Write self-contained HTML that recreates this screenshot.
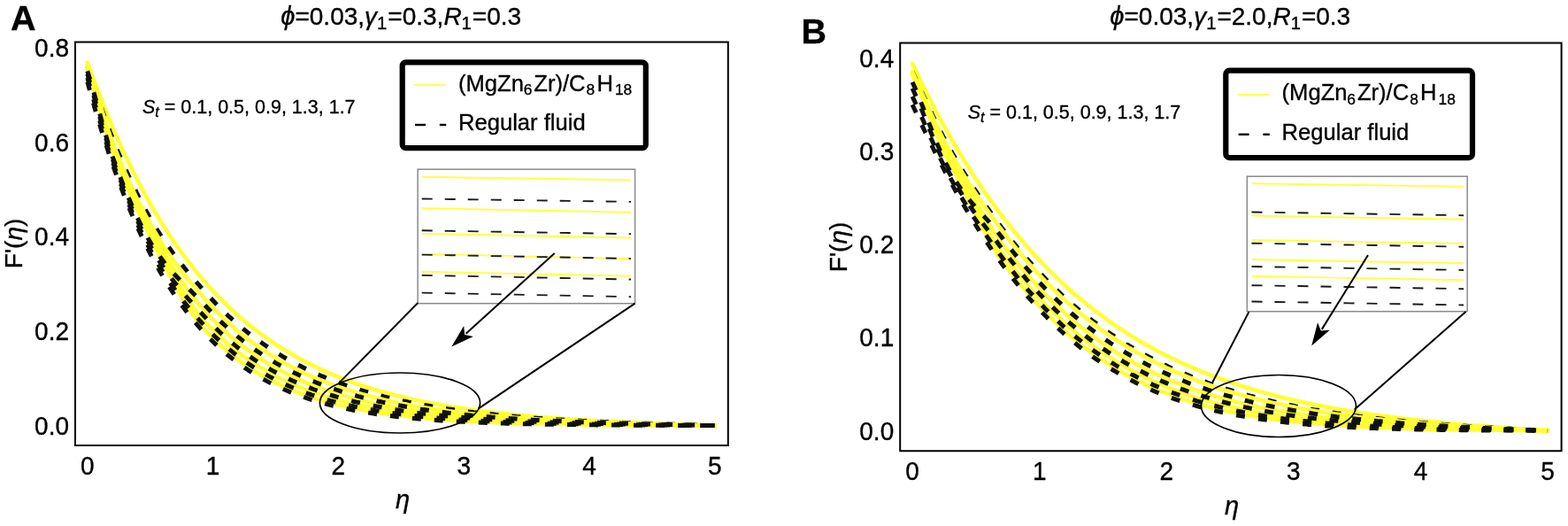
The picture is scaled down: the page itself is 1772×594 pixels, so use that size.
<!DOCTYPE html>
<html><head><meta charset="utf-8"><title>Figure</title>
<style>html,body{margin:0;padding:0;background:#fff;}svg{display:block;}text{stroke:#000;stroke-width:0.35px;}</style></head>
<body><svg width="1772" height="594" viewBox="0 0 1772 594" font-family="'Liberation Sans', Arial, sans-serif" fill="#000">
<rect width="1772" height="594" fill="#fff"/>
<text x="12.0" y="33.7" font-size="39.5" font-weight="bold">A</text>
<text x="453.2" y="27.9" font-size="28.0" text-anchor="middle"><tspan font-style="italic" font-size="29.1">&#981;</tspan>=0.03,<tspan font-style="italic">&#947;</tspan><tspan font-size="20.2" dy="5">1</tspan><tspan dy="-5" dx="1">=0.3,</tspan><tspan font-style="italic">R</tspan><tspan font-size="20.2" dy="5">1</tspan><tspan dy="-5" dx="1">=0.3</tspan></text>
<clipPath id="clipA"><rect x="85.0" y="47.4" width="737.8" height="455.6"/></clipPath>
<g clip-path="url(#clipA)" fill="none">
<path d="M98.8,70.4 L101.6,78.4 L104.5,86.2 L107.3,93.8 L110.1,101.3 L113.0,108.7 L115.8,116.0 L118.7,123.1 L121.5,130.0 L124.3,136.9 L127.2,143.6 L130.0,150.1 L132.8,156.6 L135.7,162.9 L138.5,169.1 L141.3,175.2 L144.2,181.2 L147.0,187.0 L149.8,192.8 L152.7,198.4 L155.5,203.9 L158.4,209.4 L161.2,214.7 L164.0,219.9 L166.9,225.0 L169.7,230.0 L172.5,235.0 L175.4,239.8 L178.2,244.5 L181.0,249.2 L183.9,253.7 L186.7,258.2 L189.6,262.6 L192.4,266.9 L195.2,271.1 L198.1,275.2 L200.9,279.3 L203.7,283.3 L206.6,287.2 L209.4,291.0 L212.2,294.7 L215.1,298.4 L217.9,302.0 L220.7,305.5 L223.6,309.0 L226.4,312.4 L229.3,315.8 L232.1,319.0 L234.9,322.2 L237.8,325.4 L240.6,328.5 L243.4,331.5 L246.3,334.5 L249.1,337.4 L251.9,340.2 L254.8,343.0 L257.6,345.8 L260.5,348.5 L263.3,351.1 L266.1,353.7 L269.0,356.2 L271.8,358.7 L274.6,361.1 L277.5,363.5 L280.3,365.9 L283.1,368.2 L286.0,370.4 L288.8,372.6 L291.6,374.8 L294.5,376.9 L297.3,379.0 L300.2,381.0 L303.0,383.0 L305.8,385.0 L308.7,386.9 L311.5,388.8 L314.3,390.7 L317.2,392.5 L320.0,394.2 L322.8,396.0 L325.7,397.7 L328.5,399.4 L331.4,401.0 L334.2,402.6 L337.0,404.2 L339.9,405.7 L342.7,407.3 L345.5,408.7 L348.4,410.2 L351.2,411.6 L354.0,413.0 L356.9,414.4 L359.7,415.7 L362.5,417.1 L365.4,418.4 L368.2,419.6 L371.1,420.9 L373.9,422.1 L376.7,423.3 L379.6,424.4 L382.4,425.6 L385.2,426.7 L388.1,427.8 L390.9,428.9 L393.7,430.0 L396.6,431.0 L399.4,432.0 L402.3,433.0 L405.1,434.0 L407.9,434.9 L410.8,435.9 L413.6,436.8 L416.4,437.7 L419.3,438.6 L422.1,439.4 L424.9,440.3 L427.8,441.1 L430.6,441.9 L433.4,442.7 L436.3,443.5 L439.1,444.3 L442.0,445.0 L444.8,445.8 L447.6,446.5 L450.5,447.2 L453.3,447.9 L456.1,448.6 L459.0,449.3 L461.8,449.9 L464.6,450.6 L467.5,451.2 L470.3,451.8 L473.2,452.4 L476.0,453.0 L478.8,453.6 L481.7,454.1 L484.5,454.7 L487.3,455.2 L490.2,455.8 L493.0,456.3 L495.8,456.8 L498.7,457.3 L501.5,457.8 L504.3,458.3 L507.2,458.8 L510.0,459.2 L512.9,459.7 L515.7,460.1 L518.5,460.6 L521.4,461.0 L524.2,461.4 L527.0,461.8 L529.9,462.2 L532.7,462.6 L535.5,463.0 L538.4,463.4 L541.2,463.8 L544.1,464.1 L546.9,464.5 L549.7,464.9 L552.6,465.2 L555.4,465.5 L558.2,465.9 L561.1,466.2 L563.9,466.5 L566.7,466.8 L569.6,467.1 L572.4,467.4 L575.2,467.7 L578.1,468.0 L580.9,468.3 L583.8,468.6 L586.6,468.9 L589.4,469.1 L592.3,469.4 L595.1,469.6 L597.9,469.9 L600.8,470.1 L603.6,470.4 L606.4,470.6 L609.3,470.9 L612.1,471.1 L615.0,471.3 L617.8,471.5 L620.6,471.7 L623.5,472.0 L626.3,472.2 L629.1,472.4 L632.0,472.6 L634.8,472.8 L637.6,473.0 L640.5,473.2 L643.3,473.3 L646.1,473.5 L649.0,473.7 L651.8,473.9 L654.7,474.1 L657.5,474.2 L660.3,474.4 L663.2,474.6 L666.0,474.7 L668.8,474.9 L671.7,475.0 L674.5,475.2 L677.3,475.4 L680.2,475.5 L683.0,475.7 L685.9,475.8 L688.7,475.9 L691.5,476.1 L694.4,476.2 L697.2,476.4 L700.0,476.5 L702.9,476.6 L705.7,476.7 L708.5,476.9 L711.4,477.0 L714.2,477.1 L717.0,477.2 L719.9,477.4 L722.7,477.5 L725.6,477.6 L728.4,477.7 L731.2,477.8 L734.1,477.9 L736.9,478.1 L739.7,478.2 L742.6,478.3 L745.4,478.4 L748.2,478.5 L751.1,478.6 L753.9,478.7 L756.8,478.8 L759.6,478.9 L762.4,479.0 L765.3,479.1 L768.1,479.2 L770.9,479.3 L773.8,479.4 L776.6,479.5 L779.4,479.6 L782.3,479.7 L785.1,479.8 L787.9,479.9 L790.8,480.0 L793.6,480.1 L796.5,480.1 L799.3,480.2 L802.1,480.3 L805.0,480.4 L807.8,480.5" stroke="#ffff33" stroke-width="4.6" stroke-linejoin="round" stroke-linecap="round"/>
<path d="M98.8,74.8 L101.6,83.3 L104.5,91.8 L107.3,100.2 L110.1,108.7 L113.0,117.0 L115.8,125.2 L118.7,133.3 L121.5,141.2 L124.3,148.8 L127.2,156.1 L130.0,163.1 L132.8,170.0 L135.7,176.7 L138.5,183.3 L141.3,189.7 L144.2,196.0 L147.0,202.1 L149.8,208.2 L152.7,214.1 L155.5,219.8 L158.4,225.5 L161.2,230.9 L164.0,236.2 L166.9,241.4 L169.7,246.4 L172.5,251.2 L175.4,255.9 L178.2,260.5 L181.0,264.9 L183.9,269.2 L186.7,273.5 L189.6,277.5 L192.4,281.5 L195.2,285.4 L198.1,289.2 L200.9,293.0 L203.7,296.6 L206.6,300.2 L209.4,303.7 L212.2,307.1 L215.1,310.5 L217.9,313.9 L220.7,317.2 L223.6,320.4 L226.4,323.7 L229.3,326.9 L232.1,330.1 L234.9,333.2 L237.8,336.3 L240.6,339.3 L243.4,342.3 L246.3,345.2 L249.1,348.1 L251.9,350.9 L254.8,353.6 L257.6,356.3 L260.5,358.9 L263.3,361.4 L266.1,363.9 L269.0,366.4 L271.8,368.8 L274.6,371.2 L277.5,373.5 L280.3,375.7 L283.1,377.9 L286.0,380.1 L288.8,382.2 L291.6,384.3 L294.5,386.3 L297.3,388.3 L300.2,390.3 L303.0,392.2 L305.8,394.0 L308.7,395.9 L311.5,397.7 L314.3,399.4 L317.2,401.1 L320.0,402.8 L322.8,404.5 L325.7,406.1 L328.5,407.6 L331.4,409.2 L334.2,410.7 L337.0,412.2 L339.9,413.6 L342.7,415.0 L345.5,416.4 L348.4,417.8 L351.2,419.1 L354.0,420.4 L356.9,421.7 L359.7,422.9 L362.5,424.2 L365.4,425.4 L368.2,426.5 L371.1,427.7 L373.9,428.8 L376.7,429.9 L379.6,431.0 L382.4,432.0 L385.2,433.1 L388.1,434.1 L390.9,435.1 L393.7,436.0 L396.6,437.0 L399.4,437.9 L402.3,438.8 L405.1,439.7 L407.9,440.6 L410.8,441.5 L413.6,442.3 L416.4,443.1 L419.3,443.9 L422.1,444.7 L424.9,445.5 L427.8,446.2 L430.6,446.9 L433.4,447.7 L436.3,448.4 L439.1,449.1 L442.0,449.7 L444.8,450.4 L447.6,451.0 L450.5,451.7 L453.3,452.3 L456.1,452.9 L459.0,453.5 L461.8,454.1 L464.6,454.7 L467.5,455.2 L470.3,455.8 L473.2,456.3 L476.0,456.8 L478.8,457.3 L481.7,457.8 L484.5,458.3 L487.3,458.8 L490.2,459.3 L493.0,459.8 L495.8,460.2 L498.7,460.7 L501.5,461.1 L504.3,461.5 L507.2,461.9 L510.0,462.3 L512.9,462.7 L515.7,463.1 L518.5,463.5 L521.4,463.9 L524.2,464.3 L527.0,464.6 L529.9,465.0 L532.7,465.3 L535.5,465.7 L538.4,466.0 L541.2,466.3 L544.1,466.6 L546.9,466.9 L549.7,467.2 L552.6,467.5 L555.4,467.8 L558.2,468.1 L561.1,468.4 L563.9,468.7 L566.7,468.9 L569.6,469.2 L572.4,469.5 L575.2,469.7 L578.1,470.0 L580.9,470.2 L583.8,470.5 L586.6,470.7 L589.4,470.9 L592.3,471.1 L595.1,471.4 L597.9,471.6 L600.8,471.8 L603.6,472.0 L606.4,472.2 L609.3,472.4 L612.1,472.6 L615.0,472.8 L617.8,473.0 L620.6,473.2 L623.5,473.3 L626.3,473.5 L629.1,473.7 L632.0,473.9 L634.8,474.0 L637.6,474.2 L640.5,474.4 L643.3,474.5 L646.1,474.7 L649.0,474.8 L651.8,475.0 L654.7,475.1 L657.5,475.3 L660.3,475.4 L663.2,475.6 L666.0,475.7 L668.8,475.8 L671.7,476.0 L674.5,476.1 L677.3,476.2 L680.2,476.3 L683.0,476.5 L685.9,476.6 L688.7,476.7 L691.5,476.8 L694.4,476.9 L697.2,477.1 L700.0,477.2 L702.9,477.3 L705.7,477.4 L708.5,477.5 L711.4,477.6 L714.2,477.7 L717.0,477.8 L719.9,477.9 L722.7,478.0 L725.6,478.1 L728.4,478.2 L731.2,478.3 L734.1,478.4 L736.9,478.5 L739.7,478.6 L742.6,478.7 L745.4,478.7 L748.2,478.8 L751.1,478.9 L753.9,479.0 L756.8,479.1 L759.6,479.2 L762.4,479.3 L765.3,479.3 L768.1,479.4 L770.9,479.5 L773.8,479.6 L776.6,479.7 L779.4,479.7 L782.3,479.8 L785.1,479.9 L787.9,480.0 L790.8,480.1 L793.6,480.1 L796.5,480.2 L799.3,480.3 L802.1,480.4 L805.0,480.4 L807.8,480.5" stroke="#111111" stroke-width="5" stroke-dasharray="10 14.976" stroke-linejoin="round"/>
<path d="M98.8,72.6 L101.6,81.0 L104.5,89.7 L107.3,98.7 L110.1,107.8 L113.0,117.2 L115.8,126.5 L118.7,135.7 L121.5,144.6 L124.3,153.0 L127.2,160.7 L130.0,167.9 L132.8,174.9 L135.7,181.7 L138.5,188.4 L141.3,195.0 L144.2,201.4 L147.0,207.7 L149.8,213.8 L152.7,219.8 L155.5,225.7 L158.4,231.4 L161.2,236.9 L164.0,242.3 L166.9,247.6 L169.7,252.7 L172.5,257.7 L175.4,262.5 L178.2,267.2 L181.0,271.7 L183.9,276.2 L186.7,280.5 L189.6,284.7 L192.4,288.8 L195.2,292.8 L198.1,296.8 L200.9,300.6 L203.7,304.3 L206.6,308.0 L209.4,311.6 L212.2,315.1 L215.1,318.5 L217.9,321.9 L220.7,325.3 L223.6,328.6 L226.4,331.8 L229.3,335.0 L232.1,338.2 L234.9,341.3 L237.8,344.4 L240.6,347.4 L243.4,350.3 L246.3,353.2 L249.1,356.0 L251.9,358.7 L254.8,361.4 L257.6,364.0 L260.5,366.6 L263.3,369.1 L266.1,371.5 L269.0,373.9 L271.8,376.3 L274.6,378.6 L277.5,380.8 L280.3,383.0 L283.1,385.1 L286.0,387.2 L288.8,389.3 L291.6,391.3 L294.5,393.3 L297.3,395.2 L300.2,397.1 L303.0,398.9 L305.8,400.7 L308.7,402.5 L311.5,404.2 L314.3,405.9 L317.2,407.5 L320.0,409.1 L322.8,410.7 L325.7,412.2 L328.5,413.7 L331.4,415.2 L334.2,416.6 L337.0,418.1 L339.9,419.4 L342.7,420.8 L345.5,422.1 L348.4,423.4 L351.2,424.6 L354.0,425.9 L356.9,427.1 L359.7,428.3 L362.5,429.4 L365.4,430.5 L368.2,431.6 L371.1,432.7 L373.9,433.8 L376.7,434.8 L379.6,435.8 L382.4,436.8 L385.2,437.8 L388.1,438.7 L390.9,439.6 L393.7,440.5 L396.6,441.4 L399.4,442.3 L402.3,443.1 L405.1,444.0 L407.9,444.8 L410.8,445.6 L413.6,446.3 L416.4,447.1 L419.3,447.8 L422.1,448.6 L424.9,449.3 L427.8,450.0 L430.6,450.6 L433.4,451.3 L436.3,451.9 L439.1,452.6 L442.0,453.2 L444.8,453.8 L447.6,454.4 L450.5,455.0 L453.3,455.5 L456.1,456.1 L459.0,456.6 L461.8,457.2 L464.6,457.7 L467.5,458.2 L470.3,458.7 L473.2,459.2 L476.0,459.7 L478.8,460.1 L481.7,460.6 L484.5,461.0 L487.3,461.5 L490.2,461.9 L493.0,462.3 L495.8,462.7 L498.7,463.1 L501.5,463.5 L504.3,463.9 L507.2,464.3 L510.0,464.6 L512.9,465.0 L515.7,465.3 L518.5,465.7 L521.4,466.0 L524.2,466.3 L527.0,466.7 L529.9,467.0 L532.7,467.3 L535.5,467.6 L538.4,467.9 L541.2,468.2 L544.1,468.5 L546.9,468.7 L549.7,469.0 L552.6,469.3 L555.4,469.5 L558.2,469.8 L561.1,470.0 L563.9,470.3 L566.7,470.5 L569.6,470.7 L572.4,471.0 L575.2,471.2 L578.1,471.4 L580.9,471.6 L583.8,471.8 L586.6,472.0 L589.4,472.2 L592.3,472.4 L595.1,472.6 L597.9,472.8 L600.8,473.0 L603.6,473.2 L606.4,473.4 L609.3,473.5 L612.1,473.7 L615.0,473.9 L617.8,474.1 L620.6,474.2 L623.5,474.4 L626.3,474.5 L629.1,474.7 L632.0,474.8 L634.8,475.0 L637.6,475.1 L640.5,475.3 L643.3,475.4 L646.1,475.5 L649.0,475.7 L651.8,475.8 L654.7,475.9 L657.5,476.0 L660.3,476.2 L663.2,476.3 L666.0,476.4 L668.8,476.5 L671.7,476.6 L674.5,476.7 L677.3,476.9 L680.2,477.0 L683.0,477.1 L685.9,477.2 L688.7,477.3 L691.5,477.4 L694.4,477.5 L697.2,477.6 L700.0,477.7 L702.9,477.8 L705.7,477.9 L708.5,477.9 L711.4,478.0 L714.2,478.1 L717.0,478.2 L719.9,478.3 L722.7,478.4 L725.6,478.5 L728.4,478.5 L731.2,478.6 L734.1,478.7 L736.9,478.8 L739.7,478.9 L742.6,478.9 L745.4,479.0 L748.2,479.1 L751.1,479.2 L753.9,479.2 L756.8,479.3 L759.6,479.4 L762.4,479.5 L765.3,479.5 L768.1,479.6 L770.9,479.7 L773.8,479.7 L776.6,479.8 L779.4,479.9 L782.3,479.9 L785.1,480.0 L787.9,480.1 L790.8,480.1 L793.6,480.2 L796.5,480.3 L799.3,480.3 L802.1,480.4 L805.0,480.4 L807.8,480.5" stroke="#ffff33" stroke-width="4.6" stroke-linejoin="round" stroke-linecap="round"/>
<path d="M98.8,73.7 L101.6,82.2 L104.5,91.1 L107.3,100.2 L110.1,109.6 L113.0,119.1 L115.8,128.7 L118.7,138.1 L121.5,147.2 L124.3,155.8 L127.2,163.6 L130.0,170.9 L132.8,178.0 L135.7,184.9 L138.5,191.7 L141.3,198.4 L144.2,204.9 L147.0,211.2 L149.8,217.4 L152.7,223.5 L155.5,229.4 L158.4,235.2 L161.2,240.9 L164.0,246.5 L166.9,252.0 L169.7,257.5 L172.5,262.8 L175.4,268.0 L178.2,273.2 L181.0,278.2 L183.9,283.2 L186.7,288.1 L189.6,292.9 L192.4,297.5 L195.2,302.1 L198.1,306.6 L200.9,311.0 L203.7,315.2 L206.6,319.4 L209.4,323.5 L212.2,327.4 L215.1,331.3 L217.9,335.0 L220.7,338.7 L223.6,342.2 L226.4,345.6 L229.3,348.9 L232.1,352.1 L234.9,355.2 L237.8,358.2 L240.6,361.1 L243.4,364.0 L246.3,366.7 L249.1,369.5 L251.9,372.1 L254.8,374.7 L257.6,377.3 L260.5,379.7 L263.3,382.1 L266.1,384.5 L269.0,386.8 L271.8,389.0 L274.6,391.2 L277.5,393.4 L280.3,395.5 L283.1,397.5 L286.0,399.5 L288.8,401.4 L291.6,403.3 L294.5,405.2 L297.3,407.0 L300.2,408.7 L303.0,410.4 L305.8,412.1 L308.7,413.8 L311.5,415.4 L314.3,416.9 L317.2,418.4 L320.0,419.9 L322.8,421.4 L325.7,422.8 L328.5,424.2 L331.4,425.5 L334.2,426.8 L337.0,428.1 L339.9,429.4 L342.7,430.6 L345.5,431.8 L348.4,433.0 L351.2,434.1 L354.0,435.2 L356.9,436.3 L359.7,437.4 L362.5,438.4 L365.4,439.4 L368.2,440.4 L371.1,441.3 L373.9,442.3 L376.7,443.2 L379.6,444.1 L382.4,445.0 L385.2,445.8 L388.1,446.6 L390.9,447.4 L393.7,448.2 L396.6,449.0 L399.4,449.8 L402.3,450.5 L405.1,451.2 L407.9,451.9 L410.8,452.6 L413.6,453.3 L416.4,453.9 L419.3,454.6 L422.1,455.2 L424.9,455.8 L427.8,456.4 L430.6,456.9 L433.4,457.5 L436.3,458.1 L439.1,458.6 L442.0,459.1 L444.8,459.6 L447.6,460.1 L450.5,460.6 L453.3,461.1 L456.1,461.6 L459.0,462.0 L461.8,462.4 L464.6,462.9 L467.5,463.3 L470.3,463.7 L473.2,464.1 L476.0,464.5 L478.8,464.9 L481.7,465.3 L484.5,465.6 L487.3,466.0 L490.2,466.3 L493.0,466.7 L495.8,467.0 L498.7,467.3 L501.5,467.6 L504.3,468.0 L507.2,468.3 L510.0,468.5 L512.9,468.8 L515.7,469.1 L518.5,469.4 L521.4,469.7 L524.2,469.9 L527.0,470.2 L529.9,470.4 L532.7,470.7 L535.5,470.9 L538.4,471.1 L541.2,471.4 L544.1,471.6 L546.9,471.8 L549.7,472.0 L552.6,472.2 L555.4,472.4 L558.2,472.6 L561.1,472.8 L563.9,473.0 L566.7,473.2 L569.6,473.4 L572.4,473.5 L575.2,473.7 L578.1,473.9 L580.9,474.1 L583.8,474.2 L586.6,474.4 L589.4,474.5 L592.3,474.7 L595.1,474.8 L597.9,475.0 L600.8,475.1 L603.6,475.2 L606.4,475.4 L609.3,475.5 L612.1,475.6 L615.0,475.8 L617.8,475.9 L620.6,476.0 L623.5,476.1 L626.3,476.2 L629.1,476.3 L632.0,476.5 L634.8,476.6 L637.6,476.7 L640.5,476.8 L643.3,476.9 L646.1,477.0 L649.0,477.1 L651.8,477.2 L654.7,477.3 L657.5,477.4 L660.3,477.4 L663.2,477.5 L666.0,477.6 L668.8,477.7 L671.7,477.8 L674.5,477.9 L677.3,477.9 L680.2,478.0 L683.0,478.1 L685.9,478.2 L688.7,478.2 L691.5,478.3 L694.4,478.4 L697.2,478.5 L700.0,478.5 L702.9,478.6 L705.7,478.7 L708.5,478.7 L711.4,478.8 L714.2,478.9 L717.0,478.9 L719.9,479.0 L722.7,479.0 L725.6,479.1 L728.4,479.2 L731.2,479.2 L734.1,479.3 L736.9,479.3 L739.7,479.4 L742.6,479.4 L745.4,479.5 L748.2,479.5 L751.1,479.6 L753.9,479.6 L756.8,479.7 L759.6,479.7 L762.4,479.8 L765.3,479.8 L768.1,479.9 L770.9,479.9 L773.8,480.0 L776.6,480.0 L779.4,480.1 L782.3,480.1 L785.1,480.2 L787.9,480.2 L790.8,480.2 L793.6,480.3 L796.5,480.3 L799.3,480.4 L802.1,480.4 L805.0,480.5 L807.8,480.5" stroke="#ffff33" stroke-width="4.6" stroke-linejoin="round" stroke-linecap="round"/>
<path d="M98.8,74.8 L101.6,83.5 L104.5,92.5 L107.3,101.9 L110.1,111.5 L113.0,121.3 L115.8,131.1 L118.7,140.8 L121.5,150.2 L124.3,159.0 L127.2,166.9 L130.0,174.3 L132.8,181.6 L135.7,188.6 L138.5,195.5 L141.3,202.2 L144.2,208.8 L147.0,215.2 L149.8,221.5 L152.7,227.6 L155.5,233.6 L158.4,239.5 L161.2,245.4 L164.0,251.1 L166.9,256.9 L169.7,262.5 L172.5,268.2 L175.4,273.7 L178.2,279.2 L181.0,284.6 L183.9,290.0 L186.7,295.2 L189.6,300.4 L192.4,305.5 L195.2,310.5 L198.1,315.3 L200.9,320.1 L203.7,324.8 L206.6,329.3 L209.4,333.7 L212.2,338.0 L215.1,342.1 L217.9,346.1 L220.7,349.9 L223.6,353.6 L226.4,357.1 L229.3,360.5 L232.1,363.7 L234.9,366.7 L237.8,369.7 L240.6,372.5 L243.4,375.3 L246.3,378.1 L249.1,380.7 L251.9,383.3 L254.8,385.8 L257.6,388.3 L260.5,390.7 L263.3,393.0 L266.1,395.3 L269.0,397.5 L271.8,399.7 L274.6,401.8 L277.5,403.8 L280.3,405.8 L283.1,407.8 L286.0,409.7 L288.8,411.5 L291.6,413.3 L294.5,415.1 L297.3,416.8 L300.2,418.4 L303.0,420.1 L305.8,421.6 L308.7,423.2 L311.5,424.7 L314.3,426.1 L317.2,427.6 L320.0,428.9 L322.8,430.3 L325.7,431.6 L328.5,432.9 L331.4,434.1 L334.2,435.3 L337.0,436.5 L339.9,437.7 L342.7,438.8 L345.5,439.9 L348.4,441.0 L351.2,442.0 L354.0,443.0 L356.9,444.0 L359.7,444.9 L362.5,445.9 L365.4,446.8 L368.2,447.7 L371.1,448.5 L373.9,449.4 L376.7,450.2 L379.6,451.0 L382.4,451.8 L385.2,452.5 L388.1,453.2 L390.9,454.0 L393.7,454.7 L396.6,455.3 L399.4,456.0 L402.3,456.6 L405.1,457.3 L407.9,457.9 L410.8,458.5 L413.6,459.0 L416.4,459.6 L419.3,460.2 L422.1,460.7 L424.9,461.2 L427.8,461.7 L430.6,462.2 L433.4,462.7 L436.3,463.2 L439.1,463.6 L442.0,464.1 L444.8,464.5 L447.6,464.9 L450.5,465.3 L453.3,465.7 L456.1,466.1 L459.0,466.5 L461.8,466.8 L464.6,467.2 L467.5,467.6 L470.3,467.9 L473.2,468.2 L476.0,468.5 L478.8,468.9 L481.7,469.2 L484.5,469.5 L487.3,469.8 L490.2,470.0 L493.0,470.3 L495.8,470.6 L498.7,470.8 L501.5,471.1 L504.3,471.3 L507.2,471.6 L510.0,471.8 L512.9,472.0 L515.7,472.3 L518.5,472.5 L521.4,472.7 L524.2,472.9 L527.0,473.1 L529.9,473.3 L532.7,473.5 L535.5,473.7 L538.4,473.9 L541.2,474.0 L544.1,474.2 L546.9,474.4 L549.7,474.5 L552.6,474.7 L555.4,474.8 L558.2,475.0 L561.1,475.1 L563.9,475.3 L566.7,475.4 L569.6,475.6 L572.4,475.7 L575.2,475.8 L578.1,475.9 L580.9,476.1 L583.8,476.2 L586.6,476.3 L589.4,476.4 L592.3,476.5 L595.1,476.6 L597.9,476.7 L600.8,476.8 L603.6,476.9 L606.4,477.0 L609.3,477.1 L612.1,477.2 L615.0,477.3 L617.8,477.4 L620.6,477.5 L623.5,477.6 L626.3,477.7 L629.1,477.7 L632.0,477.8 L634.8,477.9 L637.6,478.0 L640.5,478.0 L643.3,478.1 L646.1,478.2 L649.0,478.3 L651.8,478.3 L654.7,478.4 L657.5,478.4 L660.3,478.5 L663.2,478.6 L666.0,478.6 L668.8,478.7 L671.7,478.7 L674.5,478.8 L677.3,478.9 L680.2,478.9 L683.0,479.0 L685.9,479.0 L688.7,479.1 L691.5,479.1 L694.4,479.2 L697.2,479.2 L700.0,479.2 L702.9,479.3 L705.7,479.3 L708.5,479.4 L711.4,479.4 L714.2,479.5 L717.0,479.5 L719.9,479.5 L722.7,479.6 L725.6,479.6 L728.4,479.7 L731.2,479.7 L734.1,479.7 L736.9,479.8 L739.7,479.8 L742.6,479.8 L745.4,479.9 L748.2,479.9 L751.1,479.9 L753.9,480.0 L756.8,480.0 L759.6,480.0 L762.4,480.1 L765.3,480.1 L768.1,480.1 L770.9,480.1 L773.8,480.2 L776.6,480.2 L779.4,480.2 L782.3,480.3 L785.1,480.3 L787.9,480.3 L790.8,480.3 L793.6,480.4 L796.5,480.4 L799.3,480.4 L802.1,480.4 L805.0,480.5 L807.8,480.5" stroke="#ffff33" stroke-width="4.6" stroke-linejoin="round" stroke-linecap="round"/>
<path d="M98.8,75.9 L101.6,84.7 L104.5,93.9 L107.3,103.5 L110.1,113.3 L113.0,123.4 L115.8,133.4 L118.7,143.4 L121.5,153.0 L124.3,161.9 L127.2,170.1 L130.0,177.6 L132.8,184.9 L135.7,192.1 L138.5,199.0 L141.3,205.9 L144.2,212.5 L147.0,219.0 L149.8,225.4 L152.7,231.6 L155.5,237.6 L158.4,243.6 L161.2,249.5 L164.0,255.4 L166.9,261.3 L169.7,267.2 L172.5,273.0 L175.4,278.8 L178.2,284.5 L181.0,290.2 L183.9,295.8 L186.7,301.4 L189.6,306.8 L192.4,312.2 L195.2,317.5 L198.1,322.6 L200.9,327.7 L203.7,332.6 L206.6,337.4 L209.4,342.0 L212.2,346.5 L215.1,350.8 L217.9,355.0 L220.7,359.0 L223.6,362.8 L226.4,366.4 L229.3,369.8 L232.1,373.0 L234.9,376.0 L237.8,378.9 L240.6,381.7 L243.4,384.5 L246.3,387.1 L249.1,389.7 L251.9,392.3 L254.8,394.7 L257.6,397.1 L260.5,399.5 L263.3,401.7 L266.1,404.0 L269.0,406.1 L271.8,408.2 L274.6,410.2 L277.5,412.2 L280.3,414.1 L283.1,416.0 L286.0,417.8 L288.8,419.6 L291.6,421.3 L294.5,423.0 L297.3,424.6 L300.2,426.2 L303.0,427.8 L305.8,429.3 L308.7,430.7 L311.5,432.1 L314.3,433.5 L317.2,434.8 L320.0,436.2 L322.8,437.4 L325.7,438.7 L328.5,439.8 L331.4,441.0 L334.2,442.1 L337.0,443.2 L339.9,444.3 L342.7,445.4 L345.5,446.4 L348.4,447.3 L351.2,448.3 L354.0,449.2 L356.9,450.1 L359.7,451.0 L362.5,451.9 L365.4,452.7 L368.2,453.5 L371.1,454.3 L373.9,455.0 L376.7,455.8 L379.6,456.5 L382.4,457.2 L385.2,457.9 L388.1,458.5 L390.9,459.2 L393.7,459.8 L396.6,460.4 L399.4,461.0 L402.3,461.5 L405.1,462.1 L407.9,462.6 L410.8,463.2 L413.6,463.7 L416.4,464.2 L419.3,464.6 L422.1,465.1 L424.9,465.6 L427.8,466.0 L430.6,466.4 L433.4,466.8 L436.3,467.2 L439.1,467.6 L442.0,468.0 L444.8,468.4 L447.6,468.7 L450.5,469.1 L453.3,469.4 L456.1,469.7 L459.0,470.1 L461.8,470.4 L464.6,470.7 L467.5,471.0 L470.3,471.2 L473.2,471.5 L476.0,471.8 L478.8,472.0 L481.7,472.3 L484.5,472.5 L487.3,472.8 L490.2,473.0 L493.0,473.2 L495.8,473.4 L498.7,473.7 L501.5,473.9 L504.3,474.1 L507.2,474.2 L510.0,474.4 L512.9,474.6 L515.7,474.8 L518.5,475.0 L521.4,475.1 L524.2,475.3 L527.0,475.4 L529.9,475.6 L532.7,475.7 L535.5,475.9 L538.4,476.0 L541.2,476.2 L544.1,476.3 L546.9,476.4 L549.7,476.5 L552.6,476.7 L555.4,476.8 L558.2,476.9 L561.1,477.0 L563.9,477.1 L566.7,477.2 L569.6,477.3 L572.4,477.4 L575.2,477.5 L578.1,477.6 L580.9,477.7 L583.8,477.8 L586.6,477.9 L589.4,477.9 L592.3,478.0 L595.1,478.1 L597.9,478.2 L600.8,478.2 L603.6,478.3 L606.4,478.4 L609.3,478.4 L612.1,478.5 L615.0,478.6 L617.8,478.6 L620.6,478.7 L623.5,478.7 L626.3,478.8 L629.1,478.9 L632.0,478.9 L634.8,479.0 L637.6,479.0 L640.5,479.1 L643.3,479.1 L646.1,479.2 L649.0,479.2 L651.8,479.2 L654.7,479.3 L657.5,479.3 L660.3,479.4 L663.2,479.4 L666.0,479.4 L668.8,479.5 L671.7,479.5 L674.5,479.5 L677.3,479.6 L680.2,479.6 L683.0,479.6 L685.9,479.7 L688.7,479.7 L691.5,479.7 L694.4,479.8 L697.2,479.8 L700.0,479.8 L702.9,479.8 L705.7,479.9 L708.5,479.9 L711.4,479.9 L714.2,479.9 L717.0,480.0 L719.9,480.0 L722.7,480.0 L725.6,480.0 L728.4,480.1 L731.2,480.1 L734.1,480.1 L736.9,480.1 L739.7,480.1 L742.6,480.2 L745.4,480.2 L748.2,480.2 L751.1,480.2 L753.9,480.2 L756.8,480.2 L759.6,480.3 L762.4,480.3 L765.3,480.3 L768.1,480.3 L770.9,480.3 L773.8,480.3 L776.6,480.4 L779.4,480.4 L782.3,480.4 L785.1,480.4 L787.9,480.4 L790.8,480.4 L793.6,480.4 L796.5,480.4 L799.3,480.5 L802.1,480.5 L805.0,480.5 L807.8,480.5" stroke="#ffff33" stroke-width="4.6" stroke-linejoin="round" stroke-linecap="round"/>
<path d="M98.8,80.2 L101.6,89.5 L104.5,99.1 L107.3,109.0 L110.1,119.1 L113.0,129.4 L115.8,139.6 L118.7,149.7 L121.5,159.5 L124.3,168.6 L127.2,177.0 L130.0,184.7 L132.8,192.3 L135.7,199.6 L138.5,206.8 L141.3,213.8 L144.2,220.7 L147.0,227.3 L149.8,233.8 L152.7,240.2 L155.5,246.3 L158.4,252.3 L161.2,258.0 L164.0,263.3 L166.9,268.4 L169.7,273.3 L172.5,277.9 L175.4,282.3 L178.2,286.4 L181.0,290.4 L183.9,294.1 L186.7,297.7 L189.6,301.2 L192.4,304.5 L195.2,307.7 L198.1,310.7 L200.9,313.7 L203.7,316.6 L206.6,319.5 L209.4,322.3 L212.2,325.1 L215.1,327.9 L217.9,330.7 L220.7,333.5 L223.6,336.3 L226.4,339.2 L229.3,342.1 L232.1,345.2 L234.9,348.2 L237.8,351.3 L240.6,354.2 L243.4,357.1 L246.3,359.9 L249.1,362.7 L251.9,365.4 L254.8,368.0 L257.6,370.6 L260.5,373.1 L263.3,375.6 L266.1,378.0 L269.0,380.4 L271.8,382.6 L274.6,384.9 L277.5,387.1 L280.3,389.2 L283.1,391.3 L286.0,393.4 L288.8,395.4 L291.6,397.3 L294.5,399.2 L297.3,401.1 L300.2,402.9 L303.0,404.7 L305.8,406.4 L308.7,408.1 L311.5,409.8 L314.3,411.4 L317.2,413.0 L320.0,414.5 L322.8,416.0 L325.7,417.5 L328.5,419.0 L331.4,420.4 L334.2,421.7 L337.0,423.1 L339.9,424.4 L342.7,425.7 L345.5,426.9 L348.4,428.2 L351.2,429.4 L354.0,430.5 L356.9,431.7 L359.7,432.8 L362.5,433.9 L365.4,435.0 L368.2,436.0 L371.1,437.0 L373.9,438.0 L376.7,439.0 L379.6,440.0 L382.4,440.9 L385.2,441.8 L388.1,442.7 L390.9,443.5 L393.7,444.4 L396.6,445.2 L399.4,446.0 L402.3,446.8 L405.1,447.6 L407.9,448.3 L410.8,449.1 L413.6,449.8 L416.4,450.5 L419.3,451.2 L422.1,451.9 L424.9,452.5 L427.8,453.2 L430.6,453.8 L433.4,454.4 L436.3,455.0 L439.1,455.6 L442.0,456.2 L444.8,456.7 L447.6,457.3 L450.5,457.8 L453.3,458.3 L456.1,458.8 L459.0,459.3 L461.8,459.8 L464.6,460.3 L467.5,460.7 L470.3,461.2 L473.2,461.6 L476.0,462.1 L478.8,462.5 L481.7,462.9 L484.5,463.3 L487.3,463.7 L490.2,464.1 L493.0,464.5 L495.8,464.9 L498.7,465.2 L501.5,465.6 L504.3,465.9 L507.2,466.3 L510.0,466.6 L512.9,466.9 L515.7,467.2 L518.5,467.5 L521.4,467.8 L524.2,468.1 L527.0,468.4 L529.9,468.7 L532.7,469.0 L535.5,469.2 L538.4,469.5 L541.2,469.8 L544.1,470.0 L546.9,470.3 L549.7,470.5 L552.6,470.7 L555.4,471.0 L558.2,471.2 L561.1,471.4 L563.9,471.6 L566.7,471.9 L569.6,472.1 L572.4,472.3 L575.2,472.5 L578.1,472.7 L580.9,472.8 L583.8,473.0 L586.6,473.2 L589.4,473.4 L592.3,473.6 L595.1,473.7 L597.9,473.9 L600.8,474.1 L603.6,474.2 L606.4,474.4 L609.3,474.5 L612.1,474.7 L615.0,474.8 L617.8,475.0 L620.6,475.1 L623.5,475.2 L626.3,475.4 L629.1,475.5 L632.0,475.6 L634.8,475.8 L637.6,475.9 L640.5,476.0 L643.3,476.1 L646.1,476.3 L649.0,476.4 L651.8,476.5 L654.7,476.6 L657.5,476.7 L660.3,476.8 L663.2,476.9 L666.0,477.0 L668.8,477.1 L671.7,477.2 L674.5,477.3 L677.3,477.4 L680.2,477.5 L683.0,477.6 L685.9,477.7 L688.7,477.8 L691.5,477.8 L694.4,477.9 L697.2,478.0 L700.0,478.1 L702.9,478.2 L705.7,478.3 L708.5,478.3 L711.4,478.4 L714.2,478.5 L717.0,478.6 L719.9,478.6 L722.7,478.7 L725.6,478.8 L728.4,478.8 L731.2,478.9 L734.1,479.0 L736.9,479.1 L739.7,479.1 L742.6,479.2 L745.4,479.2 L748.2,479.3 L751.1,479.4 L753.9,479.4 L756.8,479.5 L759.6,479.6 L762.4,479.6 L765.3,479.7 L768.1,479.7 L770.9,479.8 L773.8,479.9 L776.6,479.9 L779.4,480.0 L782.3,480.0 L785.1,480.1 L787.9,480.1 L790.8,480.2 L793.6,480.2 L796.5,480.3 L799.3,480.3 L802.1,480.4 L805.0,480.4 L807.8,480.5" stroke="#111111" stroke-width="5" stroke-dasharray="10 15.090" stroke-linejoin="round"/>
<path d="M98.8,83.5 L101.6,93.1 L104.5,102.9 L107.3,112.8 L110.1,122.8 L113.0,132.9 L115.8,142.9 L118.7,152.7 L121.5,162.1 L124.3,171.1 L127.2,179.5 L130.0,187.3 L132.8,194.9 L135.7,202.4 L138.5,209.6 L141.3,216.7 L144.2,223.6 L147.0,230.4 L149.8,236.9 L152.7,243.3 L155.5,249.5 L158.4,255.6 L161.2,261.4 L164.0,267.0 L166.9,272.3 L169.7,277.5 L172.5,282.5 L175.4,287.3 L178.2,291.9 L181.0,296.3 L183.9,300.6 L186.7,304.7 L189.6,308.7 L192.4,312.6 L195.2,316.3 L198.1,320.0 L200.9,323.5 L203.7,327.0 L206.6,330.3 L209.4,333.6 L212.2,336.9 L215.1,340.0 L217.9,343.2 L220.7,346.3 L223.6,349.4 L226.4,352.4 L229.3,355.5 L232.1,358.5 L234.9,361.5 L237.8,364.5 L240.6,367.4 L243.4,370.2 L246.3,373.0 L249.1,375.7 L251.9,378.3 L254.8,380.8 L257.6,383.3 L260.5,385.8 L263.3,388.1 L266.1,390.4 L269.0,392.7 L271.8,394.9 L274.6,397.0 L277.5,399.1 L280.3,401.2 L283.1,403.1 L286.0,405.1 L288.8,407.0 L291.6,408.8 L294.5,410.6 L297.3,412.4 L300.2,414.1 L303.0,415.7 L305.8,417.4 L308.7,418.9 L311.5,420.5 L314.3,422.0 L317.2,423.5 L320.0,424.9 L322.8,426.3 L325.7,427.6 L328.5,429.0 L331.4,430.3 L334.2,431.5 L337.0,432.7 L339.9,433.9 L342.7,435.1 L345.5,436.3 L348.4,437.4 L351.2,438.4 L354.0,439.5 L356.9,440.5 L359.7,441.5 L362.5,442.5 L365.4,443.5 L368.2,444.4 L371.1,445.3 L373.9,446.2 L376.7,447.0 L379.6,447.9 L382.4,448.7 L385.2,449.5 L388.1,450.3 L390.9,451.0 L393.7,451.8 L396.6,452.5 L399.4,453.2 L402.3,453.9 L405.1,454.5 L407.9,455.2 L410.8,455.8 L413.6,456.4 L416.4,457.0 L419.3,457.6 L422.1,458.2 L424.9,458.8 L427.8,459.3 L430.6,459.8 L433.4,460.4 L436.3,460.9 L439.1,461.4 L442.0,461.8 L444.8,462.3 L447.6,462.8 L450.5,463.2 L453.3,463.6 L456.1,464.1 L459.0,464.5 L461.8,464.9 L464.6,465.3 L467.5,465.6 L470.3,466.0 L473.2,466.4 L476.0,466.7 L478.8,467.1 L481.7,467.4 L484.5,467.7 L487.3,468.1 L490.2,468.4 L493.0,468.7 L495.8,469.0 L498.7,469.3 L501.5,469.5 L504.3,469.8 L507.2,470.1 L510.0,470.3 L512.9,470.6 L515.7,470.9 L518.5,471.1 L521.4,471.3 L524.2,471.6 L527.0,471.8 L529.9,472.0 L532.7,472.2 L535.5,472.4 L538.4,472.6 L541.2,472.8 L544.1,473.0 L546.9,473.2 L549.7,473.4 L552.6,473.6 L555.4,473.8 L558.2,473.9 L561.1,474.1 L563.9,474.3 L566.7,474.4 L569.6,474.6 L572.4,474.7 L575.2,474.9 L578.1,475.0 L580.9,475.2 L583.8,475.3 L586.6,475.4 L589.4,475.6 L592.3,475.7 L595.1,475.8 L597.9,475.9 L600.8,476.1 L603.6,476.2 L606.4,476.3 L609.3,476.4 L612.1,476.5 L615.0,476.6 L617.8,476.7 L620.6,476.8 L623.5,476.9 L626.3,477.0 L629.1,477.1 L632.0,477.2 L634.8,477.3 L637.6,477.4 L640.5,477.5 L643.3,477.6 L646.1,477.6 L649.0,477.7 L651.8,477.8 L654.7,477.9 L657.5,478.0 L660.3,478.0 L663.2,478.1 L666.0,478.2 L668.8,478.2 L671.7,478.3 L674.5,478.4 L677.3,478.4 L680.2,478.5 L683.0,478.6 L685.9,478.6 L688.7,478.7 L691.5,478.8 L694.4,478.8 L697.2,478.9 L700.0,478.9 L702.9,479.0 L705.7,479.0 L708.5,479.1 L711.4,479.1 L714.2,479.2 L717.0,479.2 L719.9,479.3 L722.7,479.3 L725.6,479.4 L728.4,479.4 L731.2,479.5 L734.1,479.5 L736.9,479.6 L739.7,479.6 L742.6,479.6 L745.4,479.7 L748.2,479.7 L751.1,479.8 L753.9,479.8 L756.8,479.9 L759.6,479.9 L762.4,479.9 L765.3,480.0 L768.1,480.0 L770.9,480.0 L773.8,480.1 L776.6,480.1 L779.4,480.2 L782.3,480.2 L785.1,480.2 L787.9,480.3 L790.8,480.3 L793.6,480.3 L796.5,480.4 L799.3,480.4 L802.1,480.4 L805.0,480.5 L807.8,480.5" stroke="#111111" stroke-width="5" stroke-dasharray="10 15.128" stroke-linejoin="round"/>
<path d="M98.8,87.9 L101.6,97.9 L104.5,107.9 L107.3,117.8 L110.1,127.6 L113.0,137.3 L115.8,146.9 L118.7,156.3 L121.5,165.4 L124.3,174.1 L127.2,182.4 L130.0,190.3 L132.8,198.1 L135.7,205.6 L138.5,212.9 L141.3,220.1 L144.2,227.1 L147.0,233.9 L149.8,240.5 L152.7,247.0 L155.5,253.2 L158.4,259.4 L161.2,265.3 L164.0,271.0 L166.9,276.6 L169.7,282.0 L172.5,287.2 L175.4,292.3 L178.2,297.2 L181.0,302.0 L183.9,306.6 L186.7,311.1 L189.6,315.4 L192.4,319.7 L195.2,323.8 L198.1,327.8 L200.9,331.7 L203.7,335.5 L206.6,339.2 L209.4,342.8 L212.2,346.3 L215.1,349.7 L217.9,353.1 L220.7,356.4 L223.6,359.6 L226.4,362.8 L229.3,365.9 L232.1,368.9 L234.9,371.9 L237.8,374.9 L240.6,377.7 L243.4,380.5 L246.3,383.2 L249.1,385.8 L251.9,388.4 L254.8,390.8 L257.6,393.3 L260.5,395.6 L263.3,397.9 L266.1,400.2 L269.0,402.3 L271.8,404.5 L274.6,406.5 L277.5,408.5 L280.3,410.5 L283.1,412.4 L286.0,414.3 L288.8,416.1 L291.6,417.8 L294.5,419.5 L297.3,421.2 L300.2,422.8 L303.0,424.4 L305.8,425.9 L308.7,427.4 L311.5,428.9 L314.3,430.3 L317.2,431.7 L320.0,433.0 L322.8,434.3 L325.7,435.6 L328.5,436.8 L331.4,438.0 L334.2,439.2 L337.0,440.3 L339.9,441.4 L342.7,442.5 L345.5,443.5 L348.4,444.6 L351.2,445.5 L354.0,446.5 L356.9,447.4 L359.7,448.4 L362.5,449.2 L365.4,450.1 L368.2,450.9 L371.1,451.8 L373.9,452.6 L376.7,453.3 L379.6,454.1 L382.4,454.8 L385.2,455.5 L388.1,456.2 L390.9,456.9 L393.7,457.5 L396.6,458.2 L399.4,458.8 L402.3,459.4 L405.1,460.0 L407.9,460.6 L410.8,461.1 L413.6,461.6 L416.4,462.2 L419.3,462.7 L422.1,463.2 L424.9,463.7 L427.8,464.1 L430.6,464.6 L433.4,465.0 L436.3,465.4 L439.1,465.9 L442.0,466.3 L444.8,466.7 L447.6,467.1 L450.5,467.4 L453.3,467.8 L456.1,468.1 L459.0,468.5 L461.8,468.8 L464.6,469.2 L467.5,469.5 L470.3,469.8 L473.2,470.1 L476.0,470.4 L478.8,470.6 L481.7,470.9 L484.5,471.2 L487.3,471.5 L490.2,471.7 L493.0,472.0 L495.8,472.2 L498.7,472.4 L501.5,472.6 L504.3,472.9 L507.2,473.1 L510.0,473.3 L512.9,473.5 L515.7,473.7 L518.5,473.9 L521.4,474.1 L524.2,474.2 L527.0,474.4 L529.9,474.6 L532.7,474.8 L535.5,474.9 L538.4,475.1 L541.2,475.2 L544.1,475.4 L546.9,475.5 L549.7,475.7 L552.6,475.8 L555.4,475.9 L558.2,476.1 L561.1,476.2 L563.9,476.3 L566.7,476.4 L569.6,476.5 L572.4,476.7 L575.2,476.8 L578.1,476.9 L580.9,477.0 L583.8,477.1 L586.6,477.2 L589.4,477.3 L592.3,477.4 L595.1,477.5 L597.9,477.5 L600.8,477.6 L603.6,477.7 L606.4,477.8 L609.3,477.9 L612.1,477.9 L615.0,478.0 L617.8,478.1 L620.6,478.2 L623.5,478.2 L626.3,478.3 L629.1,478.4 L632.0,478.4 L634.8,478.5 L637.6,478.6 L640.5,478.6 L643.3,478.7 L646.1,478.7 L649.0,478.8 L651.8,478.8 L654.7,478.9 L657.5,478.9 L660.3,479.0 L663.2,479.0 L666.0,479.1 L668.8,479.1 L671.7,479.2 L674.5,479.2 L677.3,479.3 L680.2,479.3 L683.0,479.3 L685.9,479.4 L688.7,479.4 L691.5,479.5 L694.4,479.5 L697.2,479.5 L700.0,479.6 L702.9,479.6 L705.7,479.6 L708.5,479.7 L711.4,479.7 L714.2,479.7 L717.0,479.8 L719.9,479.8 L722.7,479.8 L725.6,479.8 L728.4,479.9 L731.2,479.9 L734.1,479.9 L736.9,480.0 L739.7,480.0 L742.6,480.0 L745.4,480.0 L748.2,480.1 L751.1,480.1 L753.9,480.1 L756.8,480.1 L759.6,480.2 L762.4,480.2 L765.3,480.2 L768.1,480.2 L770.9,480.2 L773.8,480.3 L776.6,480.3 L779.4,480.3 L782.3,480.3 L785.1,480.3 L787.9,480.4 L790.8,480.4 L793.6,480.4 L796.5,480.4 L799.3,480.4 L802.1,480.5 L805.0,480.5 L807.8,480.5" stroke="#111111" stroke-width="5" stroke-dasharray="10 15.104" stroke-linejoin="round"/>
<path d="M98.8,92.3 L101.6,102.7 L104.5,112.8 L107.3,122.7 L110.1,132.4 L113.0,141.8 L115.8,151.0 L118.7,159.9 L121.5,168.6 L124.3,177.1 L127.2,185.3 L130.0,193.3 L132.8,201.2 L135.7,208.8 L138.5,216.2 L141.3,223.5 L144.2,230.5 L147.0,237.4 L149.8,244.1 L152.7,250.6 L155.5,257.0 L158.4,263.1 L161.2,269.1 L164.0,275.0 L166.9,280.7 L169.7,286.3 L172.5,291.7 L175.4,296.9 L178.2,302.0 L181.0,307.0 L183.9,311.9 L186.7,316.6 L189.6,321.2 L192.4,325.7 L195.2,330.0 L198.1,334.3 L200.9,338.4 L203.7,342.4 L206.6,346.3 L209.4,350.1 L212.2,353.8 L215.1,357.4 L217.9,360.9 L220.7,364.3 L223.6,367.6 L226.4,370.9 L229.3,374.0 L232.1,377.1 L234.9,380.0 L237.8,382.9 L240.6,385.7 L243.4,388.4 L246.3,391.1 L249.1,393.7 L251.9,396.2 L254.8,398.6 L257.6,401.0 L260.5,403.3 L263.3,405.6 L266.1,407.7 L269.0,409.9 L271.8,411.9 L274.6,413.9 L277.5,415.9 L280.3,417.8 L283.1,419.6 L286.0,421.4 L288.8,423.1 L291.6,424.8 L294.5,426.5 L297.3,428.1 L300.2,429.6 L303.0,431.1 L305.8,432.6 L308.7,434.0 L311.5,435.4 L314.3,436.7 L317.2,438.0 L320.0,439.3 L322.8,440.5 L325.7,441.7 L328.5,442.9 L331.4,444.0 L334.2,445.1 L337.0,446.2 L339.9,447.2 L342.7,448.2 L345.5,449.2 L348.4,450.1 L351.2,451.1 L354.0,452.0 L356.9,452.8 L359.7,453.7 L362.5,454.5 L365.4,455.3 L368.2,456.0 L371.1,456.8 L373.9,457.5 L376.7,458.2 L379.6,458.9 L382.4,459.6 L385.2,460.2 L388.1,460.8 L390.9,461.4 L393.7,462.0 L396.6,462.6 L399.4,463.2 L402.3,463.7 L405.1,464.2 L407.9,464.7 L410.8,465.2 L413.6,465.7 L416.4,466.1 L419.3,466.6 L422.1,467.0 L424.9,467.5 L427.8,467.9 L430.6,468.3 L433.4,468.6 L436.3,469.0 L439.1,469.4 L442.0,469.7 L444.8,470.1 L447.6,470.4 L450.5,470.7 L453.3,471.0 L456.1,471.3 L459.0,471.6 L461.8,471.9 L464.6,472.2 L467.5,472.4 L470.3,472.7 L473.2,473.0 L476.0,473.2 L478.8,473.4 L481.7,473.7 L484.5,473.9 L487.3,474.1 L490.2,474.3 L493.0,474.5 L495.8,474.7 L498.7,474.9 L501.5,475.1 L504.3,475.2 L507.2,475.4 L510.0,475.6 L512.9,475.7 L515.7,475.9 L518.5,476.0 L521.4,476.2 L524.2,476.3 L527.0,476.5 L529.9,476.6 L532.7,476.7 L535.5,476.9 L538.4,477.0 L541.2,477.1 L544.1,477.2 L546.9,477.3 L549.7,477.4 L552.6,477.5 L555.4,477.6 L558.2,477.7 L561.1,477.8 L563.9,477.9 L566.7,478.0 L569.6,478.1 L572.4,478.2 L575.2,478.2 L578.1,478.3 L580.9,478.4 L583.8,478.5 L586.6,478.5 L589.4,478.6 L592.3,478.7 L595.1,478.7 L597.9,478.8 L600.8,478.8 L603.6,478.9 L606.4,479.0 L609.3,479.0 L612.1,479.1 L615.0,479.1 L617.8,479.2 L620.6,479.2 L623.5,479.3 L626.3,479.3 L629.1,479.3 L632.0,479.4 L634.8,479.4 L637.6,479.5 L640.5,479.5 L643.3,479.5 L646.1,479.6 L649.0,479.6 L651.8,479.6 L654.7,479.7 L657.5,479.7 L660.3,479.7 L663.2,479.8 L666.0,479.8 L668.8,479.8 L671.7,479.8 L674.5,479.9 L677.3,479.9 L680.2,479.9 L683.0,479.9 L685.9,480.0 L688.7,480.0 L691.5,480.0 L694.4,480.0 L697.2,480.0 L700.0,480.1 L702.9,480.1 L705.7,480.1 L708.5,480.1 L711.4,480.1 L714.2,480.2 L717.0,480.2 L719.9,480.2 L722.7,480.2 L725.6,480.2 L728.4,480.2 L731.2,480.2 L734.1,480.3 L736.9,480.3 L739.7,480.3 L742.6,480.3 L745.4,480.3 L748.2,480.3 L751.1,480.3 L753.9,480.3 L756.8,480.3 L759.6,480.4 L762.4,480.4 L765.3,480.4 L768.1,480.4 L770.9,480.4 L773.8,480.4 L776.6,480.4 L779.4,480.4 L782.3,480.4 L785.1,480.4 L787.9,480.4 L790.8,480.5 L793.6,480.5 L796.5,480.5 L799.3,480.5 L802.1,480.5 L805.0,480.5 L807.8,480.5" stroke="#111111" stroke-width="5" stroke-dasharray="10 15.045" stroke-linejoin="round"/>
</g>
<path d="M85.0,47.4 H822.8 V503.0 H85.0 Z" fill="none" stroke="#000" stroke-width="2"/>
<text x="0" y="0" font-size="28.0" text-anchor="end" transform="translate(78.0,490.7) scale(1,1.045)" >0.0</text>
<text x="0" y="0" font-size="28.0" text-anchor="end" transform="translate(78.0,384.0) scale(1,1.045)" >0.2</text>
<text x="0" y="0" font-size="28.0" text-anchor="end" transform="translate(78.0,277.4) scale(1,1.045)" >0.4</text>
<text x="0" y="0" font-size="28.0" text-anchor="end" transform="translate(78.0,170.7) scale(1,1.045)" >0.6</text>
<text x="0" y="0" font-size="28.0" text-anchor="end" transform="translate(78.0,64.1) scale(1,1.045)" >0.8</text>
<text x="0" y="0" font-size="28.0" text-anchor="middle" transform="translate(98.8,536.0) scale(1,1.045)" >0</text>
<text x="0" y="0" font-size="28.0" text-anchor="middle" transform="translate(240.6,536.0) scale(1,1.045)" >1</text>
<text x="0" y="0" font-size="28.0" text-anchor="middle" transform="translate(382.4,536.0) scale(1,1.045)" >2</text>
<text x="0" y="0" font-size="28.0" text-anchor="middle" transform="translate(524.2,536.0) scale(1,1.045)" >3</text>
<text x="0" y="0" font-size="28.0" text-anchor="middle" transform="translate(666.0,536.0) scale(1,1.045)" >4</text>
<text x="0" y="0" font-size="28.0" text-anchor="middle" transform="translate(807.8,536.0) scale(1,1.045)" >5</text>
<text x="447.0" y="573.6" font-size="29.0" font-style="italic">&#951;</text>
<text x="0" y="0" font-size="28.0" text-anchor="middle" transform="translate(25.0,275.0) rotate(-90)">F'(<tspan font-style="italic">&#951;</tspan>)</text>
<text x="161.0" y="127.9" font-size="21.5"><tspan font-style="italic">S</tspan><tspan font-style="italic" font-size="16.1" dy="4">t</tspan><tspan dy="-4"> = 0.1, 0.5, 0.9, 1.3, 1.7</tspan></text>
<rect x="454.7" y="70.3" width="275.1" height="96.9" rx="4" fill="#fff" stroke="#000" stroke-width="6.2"/>
<line x1="468.4" y1="96.0" x2="504.2" y2="96.0" stroke="#ffff55" stroke-width="2.2"/>
<line x1="469.0" y1="141.0" x2="481.0" y2="141.0" stroke="#000" stroke-width="2.4"/>
<line x1="496.8" y1="141.0" x2="504.2" y2="141.0" stroke="#000" stroke-width="2.4"/>
<text x="518.0" y="102.6" font-size="25.6">(MgZn<tspan font-size="17.4" dy="4.6" dx="-0.3">6</tspan><tspan dy="-4.6" dx="2">Zr)/C</tspan><tspan font-size="17.4" dy="4.6" dx="1">8</tspan><tspan dy="-4.6" dx="2.2">H</tspan><tspan font-size="17.4" dy="4.6" dx="2">18</tspan></text>
<text x="518.0" y="147.0" font-size="25.6">Regular fluid</text>
<rect x="472.1" y="191.2" width="245.5" height="151.5" fill="#fff" stroke="#8a8a8a" stroke-width="1.5"/>
<line x1="476.7" y1="199.7" x2="713.0" y2="203.3" stroke="#ffff44" stroke-width="1.9"/>
<line x1="476.7" y1="235.2" x2="713.0" y2="239.7" stroke="#ffff44" stroke-width="1.9"/>
<line x1="476.7" y1="263.9" x2="713.0" y2="268.5" stroke="#ffff44" stroke-width="1.9"/>
<line x1="476.7" y1="286.7" x2="713.0" y2="292.1" stroke="#ffff44" stroke-width="1.9"/>
<line x1="476.7" y1="306.7" x2="713.0" y2="311.8" stroke="#ffff44" stroke-width="1.9"/>
<line x1="476.7" y1="224.5" x2="713.0" y2="227.9" stroke="#1a1a1a" stroke-width="1.9" stroke-dasharray="12 14"/>
<line x1="476.7" y1="260.3" x2="713.0" y2="264.2" stroke="#1a1a1a" stroke-width="1.9" stroke-dasharray="12 14"/>
<line x1="476.7" y1="287.6" x2="713.0" y2="292.1" stroke="#1a1a1a" stroke-width="1.9" stroke-dasharray="12 14"/>
<line x1="476.7" y1="310.9" x2="713.0" y2="315.5" stroke="#1a1a1a" stroke-width="1.9" stroke-dasharray="12 14"/>
<line x1="476.7" y1="330.6" x2="713.0" y2="335.2" stroke="#1a1a1a" stroke-width="1.9" stroke-dasharray="12 14"/>
<ellipse cx="452.0" cy="455.0" rx="90.6" ry="34.0" fill="none" stroke="#000" stroke-width="1.7"/>
<line x1="472.3" y1="342.0" x2="383.0" y2="432.6" stroke="#000" stroke-width="2"/>
<line x1="717.6" y1="342.7" x2="540.4" y2="461.7" stroke="#000" stroke-width="2"/>
<line x1="626.7" y1="286.0" x2="526.6" y2="376.7" stroke="#000" stroke-width="2"/>
<path d="M510.3,391.5 L524.2,368.1 L525.1,378.1 L534.9,380.0 Z" fill="#000"/>
<text x="905.5" y="48.8" font-size="39.5" font-weight="bold">B</text>
<text x="1390.25" y="27.9" font-size="28.0" text-anchor="middle"><tspan font-style="italic" font-size="29.1">&#981;</tspan>=0.03,<tspan font-style="italic">&#947;</tspan><tspan font-size="20.2" dy="5">1</tspan><tspan dy="-5" dx="1">=2.0,</tspan><tspan font-style="italic">R</tspan><tspan font-size="20.2" dy="5">1</tspan><tspan dy="-5" dx="1">=0.3</tspan></text>
<clipPath id="clipB"><rect x="1017.2" y="48.4" width="747.3999999999999" height="460.90000000000003"/></clipPath>
<g clip-path="url(#clipB)" fill="none">
<path d="M1031.1,71.9 L1034.0,78.0 L1036.8,84.1 L1039.7,90.0 L1042.6,95.9 L1045.5,101.7 L1048.3,107.4 L1051.2,113.0 L1054.1,118.6 L1056.9,124.0 L1059.8,129.5 L1062.7,134.8 L1065.6,140.0 L1068.4,145.2 L1071.3,150.3 L1074.2,155.4 L1077.1,160.4 L1079.9,165.3 L1082.8,170.1 L1085.7,174.9 L1088.5,179.6 L1091.4,184.2 L1094.3,188.8 L1097.2,193.3 L1100.0,197.8 L1102.9,202.2 L1105.8,206.5 L1108.6,210.8 L1111.5,215.0 L1114.4,219.1 L1117.3,223.2 L1120.1,227.3 L1123.0,231.2 L1125.9,235.1 L1128.7,239.0 L1131.6,242.8 L1134.5,246.6 L1137.4,250.3 L1140.2,253.9 L1143.1,257.5 L1146.0,261.1 L1148.9,264.6 L1151.7,268.0 L1154.6,271.4 L1157.5,274.8 L1160.3,278.1 L1163.2,281.3 L1166.1,284.5 L1169.0,287.7 L1171.8,290.8 L1174.7,293.9 L1177.6,296.9 L1180.4,299.9 L1183.3,302.8 L1186.2,305.7 L1189.1,308.6 L1191.9,311.4 L1194.8,314.2 L1197.7,316.9 L1200.5,319.6 L1203.4,322.3 L1206.3,324.9 L1209.2,327.5 L1212.0,330.0 L1214.9,332.5 L1217.8,335.0 L1220.7,337.4 L1223.5,339.8 L1226.4,342.1 L1229.3,344.5 L1232.1,346.7 L1235.0,349.0 L1237.9,351.2 L1240.8,353.4 L1243.6,355.6 L1246.5,357.7 L1249.4,359.8 L1252.2,361.9 L1255.1,363.9 L1258.0,365.9 L1260.9,367.9 L1263.7,369.8 L1266.6,371.7 L1269.5,373.6 L1272.3,375.4 L1275.2,377.3 L1278.1,379.1 L1281.0,380.9 L1283.8,382.6 L1286.7,384.3 L1289.6,386.0 L1292.5,387.7 L1295.3,389.3 L1298.2,390.9 L1301.1,392.5 L1303.9,394.1 L1306.8,395.7 L1309.7,397.2 L1312.6,398.7 L1315.4,400.2 L1318.3,401.6 L1321.2,403.0 L1324.0,404.5 L1326.9,405.8 L1329.8,407.2 L1332.7,408.6 L1335.5,409.9 L1338.4,411.2 L1341.3,412.5 L1344.1,413.7 L1347.0,415.0 L1349.9,416.2 L1352.8,417.4 L1355.6,418.6 L1358.5,419.8 L1361.4,420.9 L1364.3,422.1 L1367.1,423.2 L1370.0,424.3 L1372.9,425.4 L1375.7,426.4 L1378.6,427.5 L1381.5,428.5 L1384.4,429.5 L1387.2,430.6 L1390.1,431.5 L1393.0,432.5 L1395.8,433.5 L1398.7,434.4 L1401.6,435.3 L1404.5,436.3 L1407.3,437.2 L1410.2,438.0 L1413.1,438.9 L1415.9,439.8 L1418.8,440.6 L1421.7,441.4 L1424.6,442.3 L1427.4,443.1 L1430.3,443.9 L1433.2,444.6 L1436.1,445.4 L1438.9,446.2 L1441.8,446.9 L1444.7,447.6 L1447.5,448.4 L1450.4,449.1 L1453.3,449.8 L1456.2,450.5 L1459.0,451.1 L1461.9,451.8 L1464.8,452.5 L1467.6,453.1 L1470.5,453.7 L1473.4,454.4 L1476.3,455.0 L1479.1,455.6 L1482.0,456.2 L1484.9,456.8 L1487.7,457.4 L1490.6,457.9 L1493.5,458.5 L1496.4,459.1 L1499.2,459.6 L1502.1,460.1 L1505.0,460.7 L1507.9,461.2 L1510.7,461.7 L1513.6,462.2 L1516.5,462.7 L1519.3,463.2 L1522.2,463.7 L1525.1,464.1 L1528.0,464.6 L1530.8,465.1 L1533.7,465.5 L1536.6,466.0 L1539.4,466.4 L1542.3,466.8 L1545.2,467.3 L1548.1,467.7 L1550.9,468.1 L1553.8,468.5 L1556.7,468.9 L1559.5,469.3 L1562.4,469.7 L1565.3,470.1 L1568.2,470.4 L1571.0,470.8 L1573.9,471.2 L1576.8,471.5 L1579.7,471.9 L1582.5,472.2 L1585.4,472.6 L1588.3,472.9 L1591.1,473.3 L1594.0,473.6 L1596.9,473.9 L1599.8,474.2 L1602.6,474.6 L1605.5,474.9 L1608.4,475.2 L1611.2,475.5 L1614.1,475.8 L1617.0,476.1 L1619.9,476.4 L1622.7,476.6 L1625.6,476.9 L1628.5,477.2 L1631.3,477.5 L1634.2,477.8 L1637.1,478.0 L1640.0,478.3 L1642.8,478.5 L1645.7,478.8 L1648.6,479.0 L1651.5,479.3 L1654.3,479.5 L1657.2,479.8 L1660.1,480.0 L1662.9,480.3 L1665.8,480.5 L1668.7,480.7 L1671.6,481.0 L1674.4,481.2 L1677.3,481.4 L1680.2,481.6 L1683.0,481.8 L1685.9,482.1 L1688.8,482.3 L1691.7,482.5 L1694.5,482.7 L1697.4,482.9 L1700.3,483.1 L1703.1,483.3 L1706.0,483.5 L1708.9,483.7 L1711.8,483.9 L1714.6,484.1 L1717.5,484.3 L1720.4,484.4 L1723.3,484.6 L1726.1,484.8 L1729.0,485.0 L1731.9,485.2 L1734.7,485.3 L1737.6,485.5 L1740.5,485.7 L1743.4,485.9 L1746.2,486.0 L1749.1,486.2" stroke="#ffff33" stroke-width="4.6" stroke-linejoin="round" stroke-linecap="round"/>
<path d="M1031.1,81.2 L1034.0,87.4 L1036.8,93.6 L1039.7,99.8 L1042.6,106.0 L1045.5,112.2 L1048.3,118.4 L1051.2,124.5 L1054.1,130.5 L1056.9,136.4 L1059.8,142.3 L1062.7,148.0 L1065.6,153.6 L1068.4,159.0 L1071.3,164.2 L1074.2,169.3 L1077.1,174.4 L1079.9,179.3 L1082.8,184.2 L1085.7,189.0 L1088.5,193.7 L1091.4,198.3 L1094.3,202.8 L1097.2,207.3 L1100.0,211.7 L1102.9,216.0 L1105.8,220.3 L1108.6,224.5 L1111.5,228.7 L1114.4,232.8 L1117.3,236.8 L1120.1,240.8 L1123.0,244.8 L1125.9,248.7 L1128.7,252.6 L1131.6,256.4 L1134.5,260.2 L1137.4,263.9 L1140.2,267.6 L1143.1,271.3 L1146.0,274.8 L1148.9,278.4 L1151.7,281.8 L1154.6,285.3 L1157.5,288.6 L1160.3,291.9 L1163.2,295.2 L1166.1,298.4 L1169.0,301.6 L1171.8,304.7 L1174.7,307.8 L1177.6,310.8 L1180.4,313.8 L1183.3,316.8 L1186.2,319.7 L1189.1,322.5 L1191.9,325.3 L1194.8,328.1 L1197.7,330.8 L1200.5,333.5 L1203.4,336.1 L1206.3,338.7 L1209.2,341.2 L1212.0,343.8 L1214.9,346.2 L1217.8,348.7 L1220.7,351.1 L1223.5,353.4 L1226.4,355.7 L1229.3,358.0 L1232.1,360.3 L1235.0,362.5 L1237.9,364.6 L1240.8,366.8 L1243.6,368.9 L1246.5,371.0 L1249.4,373.0 L1252.2,375.0 L1255.1,377.0 L1258.0,378.9 L1260.9,380.8 L1263.7,382.7 L1266.6,384.5 L1269.5,386.4 L1272.3,388.2 L1275.2,389.9 L1278.1,391.6 L1281.0,393.3 L1283.8,395.0 L1286.7,396.7 L1289.6,398.3 L1292.5,399.9 L1295.3,401.4 L1298.2,403.0 L1301.1,404.5 L1303.9,406.0 L1306.8,407.4 L1309.7,408.9 L1312.6,410.3 L1315.4,411.7 L1318.3,413.0 L1321.2,414.4 L1324.0,415.7 L1326.9,417.0 L1329.8,418.2 L1332.7,419.5 L1335.5,420.7 L1338.4,421.9 L1341.3,423.1 L1344.1,424.3 L1347.0,425.5 L1349.9,426.6 L1352.8,427.7 L1355.6,428.8 L1358.5,429.9 L1361.4,430.9 L1364.3,432.0 L1367.1,433.0 L1370.0,434.0 L1372.9,435.0 L1375.7,435.9 L1378.6,436.9 L1381.5,437.8 L1384.4,438.7 L1387.2,439.6 L1390.1,440.5 L1393.0,441.4 L1395.8,442.2 L1398.7,443.1 L1401.6,443.9 L1404.5,444.7 L1407.3,445.5 L1410.2,446.3 L1413.1,447.1 L1415.9,447.8 L1418.8,448.6 L1421.7,449.3 L1424.6,450.0 L1427.4,450.7 L1430.3,451.4 L1433.2,452.1 L1436.1,452.8 L1438.9,453.4 L1441.8,454.1 L1444.7,454.7 L1447.5,455.3 L1450.4,456.0 L1453.3,456.6 L1456.2,457.2 L1459.0,457.7 L1461.9,458.3 L1464.8,458.9 L1467.6,459.4 L1470.5,460.0 L1473.4,460.5 L1476.3,461.0 L1479.1,461.5 L1482.0,462.1 L1484.9,462.6 L1487.7,463.0 L1490.6,463.5 L1493.5,464.0 L1496.4,464.5 L1499.2,464.9 L1502.1,465.4 L1505.0,465.8 L1507.9,466.2 L1510.7,466.7 L1513.6,467.1 L1516.5,467.5 L1519.3,467.9 L1522.2,468.3 L1525.1,468.7 L1528.0,469.1 L1530.8,469.5 L1533.7,469.8 L1536.6,470.2 L1539.4,470.6 L1542.3,470.9 L1545.2,471.3 L1548.1,471.6 L1550.9,471.9 L1553.8,472.3 L1556.7,472.6 L1559.5,472.9 L1562.4,473.2 L1565.3,473.5 L1568.2,473.9 L1571.0,474.2 L1573.9,474.4 L1576.8,474.7 L1579.7,475.0 L1582.5,475.3 L1585.4,475.6 L1588.3,475.9 L1591.1,476.1 L1594.0,476.4 L1596.9,476.6 L1599.8,476.9 L1602.6,477.2 L1605.5,477.4 L1608.4,477.6 L1611.2,477.9 L1614.1,478.1 L1617.0,478.4 L1619.9,478.6 L1622.7,478.8 L1625.6,479.0 L1628.5,479.2 L1631.3,479.5 L1634.2,479.7 L1637.1,479.9 L1640.0,480.1 L1642.8,480.3 L1645.7,480.5 L1648.6,480.7 L1651.5,480.9 L1654.3,481.1 L1657.2,481.3 L1660.1,481.5 L1662.9,481.6 L1665.8,481.8 L1668.7,482.0 L1671.6,482.2 L1674.4,482.4 L1677.3,482.5 L1680.2,482.7 L1683.0,482.9 L1685.9,483.0 L1688.8,483.2 L1691.7,483.4 L1694.5,483.5 L1697.4,483.7 L1700.3,483.8 L1703.1,484.0 L1706.0,484.1 L1708.9,484.3 L1711.8,484.4 L1714.6,484.6 L1717.5,484.7 L1720.4,484.9 L1723.3,485.0 L1726.1,485.1 L1729.0,485.3 L1731.9,485.4 L1734.7,485.5 L1737.6,485.7 L1740.5,485.8 L1743.4,485.9 L1746.2,486.1 L1749.1,486.2" stroke="#111111" stroke-width="5" stroke-dasharray="10 14.766" stroke-linejoin="round"/>
<path d="M1031.1,81.2 L1034.0,87.4 L1036.8,93.7 L1039.7,100.1 L1042.6,106.6 L1045.5,113.1 L1048.3,119.5 L1051.2,125.9 L1054.1,132.2 L1056.9,138.5 L1059.8,144.6 L1062.7,150.6 L1065.6,156.3 L1068.4,161.9 L1071.3,167.2 L1074.2,172.3 L1077.1,177.4 L1079.9,182.3 L1082.8,187.2 L1085.7,192.0 L1088.5,196.7 L1091.4,201.3 L1094.3,205.8 L1097.2,210.2 L1100.0,214.6 L1102.9,218.9 L1105.8,223.2 L1108.6,227.4 L1111.5,231.5 L1114.4,235.6 L1117.3,239.6 L1120.1,243.6 L1123.0,247.5 L1125.9,251.4 L1128.7,255.3 L1131.6,259.1 L1134.5,262.9 L1137.4,266.7 L1140.2,270.4 L1143.1,274.0 L1146.0,277.6 L1148.9,281.1 L1151.7,284.6 L1154.6,288.0 L1157.5,291.4 L1160.3,294.7 L1163.2,298.0 L1166.1,301.2 L1169.0,304.4 L1171.8,307.5 L1174.7,310.6 L1177.6,313.6 L1180.4,316.6 L1183.3,319.5 L1186.2,322.4 L1189.1,325.3 L1191.9,328.1 L1194.8,330.8 L1197.7,333.6 L1200.5,336.2 L1203.4,338.9 L1206.3,341.4 L1209.2,344.0 L1212.0,346.5 L1214.9,349.0 L1217.8,351.4 L1220.7,353.8 L1223.5,356.1 L1226.4,358.4 L1229.3,360.7 L1232.1,363.0 L1235.0,365.2 L1237.9,367.3 L1240.8,369.5 L1243.6,371.6 L1246.5,373.6 L1249.4,375.6 L1252.2,377.6 L1255.1,379.6 L1258.0,381.5 L1260.9,383.4 L1263.7,385.3 L1266.6,387.1 L1269.5,388.9 L1272.3,390.7 L1275.2,392.4 L1278.1,394.1 L1281.0,395.8 L1283.8,397.5 L1286.7,399.1 L1289.6,400.7 L1292.5,402.3 L1295.3,403.8 L1298.2,405.4 L1301.1,406.9 L1303.9,408.3 L1306.8,409.8 L1309.7,411.2 L1312.6,412.6 L1315.4,413.9 L1318.3,415.3 L1321.2,416.6 L1324.0,417.9 L1326.9,419.2 L1329.8,420.5 L1332.7,421.7 L1335.5,422.9 L1338.4,424.1 L1341.3,425.3 L1344.1,426.4 L1347.0,427.5 L1349.9,428.7 L1352.8,429.7 L1355.6,430.8 L1358.5,431.9 L1361.4,432.9 L1364.3,433.9 L1367.1,434.9 L1370.0,435.9 L1372.9,436.9 L1375.7,437.8 L1378.6,438.7 L1381.5,439.7 L1384.4,440.6 L1387.2,441.4 L1390.1,442.3 L1393.0,443.2 L1395.8,444.0 L1398.7,444.8 L1401.6,445.6 L1404.5,446.4 L1407.3,447.2 L1410.2,448.0 L1413.1,448.7 L1415.9,449.4 L1418.8,450.2 L1421.7,450.9 L1424.6,451.6 L1427.4,452.3 L1430.3,452.9 L1433.2,453.6 L1436.1,454.3 L1438.9,454.9 L1441.8,455.5 L1444.7,456.1 L1447.5,456.7 L1450.4,457.3 L1453.3,457.9 L1456.2,458.5 L1459.0,459.1 L1461.9,459.6 L1464.8,460.2 L1467.6,460.7 L1470.5,461.2 L1473.4,461.7 L1476.3,462.2 L1479.1,462.7 L1482.0,463.2 L1484.9,463.7 L1487.7,464.2 L1490.6,464.6 L1493.5,465.1 L1496.4,465.5 L1499.2,466.0 L1502.1,466.4 L1505.0,466.8 L1507.9,467.3 L1510.7,467.7 L1513.6,468.1 L1516.5,468.5 L1519.3,468.9 L1522.2,469.2 L1525.1,469.6 L1528.0,470.0 L1530.8,470.3 L1533.7,470.7 L1536.6,471.0 L1539.4,471.4 L1542.3,471.7 L1545.2,472.1 L1548.1,472.4 L1550.9,472.7 L1553.8,473.0 L1556.7,473.3 L1559.5,473.6 L1562.4,473.9 L1565.3,474.2 L1568.2,474.5 L1571.0,474.8 L1573.9,475.1 L1576.8,475.4 L1579.7,475.6 L1582.5,475.9 L1585.4,476.2 L1588.3,476.4 L1591.1,476.7 L1594.0,476.9 L1596.9,477.2 L1599.8,477.4 L1602.6,477.7 L1605.5,477.9 L1608.4,478.1 L1611.2,478.4 L1614.1,478.6 L1617.0,478.8 L1619.9,479.0 L1622.7,479.2 L1625.6,479.4 L1628.5,479.7 L1631.3,479.9 L1634.2,480.1 L1637.1,480.3 L1640.0,480.5 L1642.8,480.6 L1645.7,480.8 L1648.6,481.0 L1651.5,481.2 L1654.3,481.4 L1657.2,481.6 L1660.1,481.7 L1662.9,481.9 L1665.8,482.1 L1668.7,482.3 L1671.6,482.4 L1674.4,482.6 L1677.3,482.7 L1680.2,482.9 L1683.0,483.1 L1685.9,483.2 L1688.8,483.4 L1691.7,483.5 L1694.5,483.7 L1697.4,483.8 L1700.3,484.0 L1703.1,484.1 L1706.0,484.3 L1708.9,484.4 L1711.8,484.5 L1714.6,484.7 L1717.5,484.8 L1720.4,484.9 L1723.3,485.1 L1726.1,485.2 L1729.0,485.3 L1731.9,485.5 L1734.7,485.6 L1737.6,485.7 L1740.5,485.8 L1743.4,486.0 L1746.2,486.1 L1749.1,486.2" stroke="#ffff33" stroke-width="4.6" stroke-linejoin="round" stroke-linecap="round"/>
<path d="M1031.1,82.1 L1034.0,88.4 L1036.8,94.9 L1039.7,101.5 L1042.6,108.2 L1045.5,115.0 L1048.3,121.8 L1051.2,128.5 L1054.1,135.2 L1056.9,141.8 L1059.8,148.3 L1062.7,154.5 L1065.6,160.6 L1068.4,166.3 L1071.3,171.7 L1074.2,176.8 L1077.1,182.0 L1079.9,187.1 L1082.8,192.3 L1085.7,197.5 L1088.5,202.7 L1091.4,207.9 L1094.3,213.1 L1097.2,218.2 L1100.0,223.3 L1102.9,228.3 L1105.8,233.3 L1108.6,238.3 L1111.5,243.1 L1114.4,247.9 L1117.3,252.5 L1120.1,257.0 L1123.0,261.4 L1125.9,265.7 L1128.7,269.8 L1131.6,273.8 L1134.5,277.6 L1137.4,281.4 L1140.2,285.2 L1143.1,288.8 L1146.0,292.4 L1148.9,296.0 L1151.7,299.5 L1154.6,303.0 L1157.5,306.4 L1160.3,309.7 L1163.2,313.0 L1166.1,316.2 L1169.0,319.4 L1171.8,322.5 L1174.7,325.6 L1177.6,328.7 L1180.4,331.6 L1183.3,334.6 L1186.2,337.5 L1189.1,340.3 L1191.9,343.1 L1194.8,345.8 L1197.7,348.5 L1200.5,351.2 L1203.4,353.8 L1206.3,356.4 L1209.2,358.9 L1212.0,361.4 L1214.9,363.8 L1217.8,366.2 L1220.7,368.5 L1223.5,370.9 L1226.4,373.1 L1229.3,375.4 L1232.1,377.6 L1235.0,379.7 L1237.9,381.8 L1240.8,383.9 L1243.6,385.9 L1246.5,387.9 L1249.4,389.9 L1252.2,391.8 L1255.1,393.7 L1258.0,395.6 L1260.9,397.4 L1263.7,399.2 L1266.6,401.0 L1269.5,402.7 L1272.3,404.4 L1275.2,406.1 L1278.1,407.7 L1281.0,409.3 L1283.8,410.9 L1286.7,412.4 L1289.6,414.0 L1292.5,415.4 L1295.3,416.9 L1298.2,418.3 L1301.1,419.7 L1303.9,421.1 L1306.8,422.5 L1309.7,423.8 L1312.6,425.1 L1315.4,426.4 L1318.3,427.6 L1321.2,428.8 L1324.0,430.0 L1326.9,431.2 L1329.8,432.4 L1332.7,433.5 L1335.5,434.6 L1338.4,435.7 L1341.3,436.8 L1344.1,437.8 L1347.0,438.9 L1349.9,439.9 L1352.8,440.8 L1355.6,441.8 L1358.5,442.8 L1361.4,443.7 L1364.3,444.6 L1367.1,445.5 L1370.0,446.4 L1372.9,447.2 L1375.7,448.1 L1378.6,448.9 L1381.5,449.7 L1384.4,450.5 L1387.2,451.2 L1390.1,452.0 L1393.0,452.7 L1395.8,453.5 L1398.7,454.2 L1401.6,454.9 L1404.5,455.6 L1407.3,456.2 L1410.2,456.9 L1413.1,457.5 L1415.9,458.2 L1418.8,458.8 L1421.7,459.4 L1424.6,460.0 L1427.4,460.5 L1430.3,461.1 L1433.2,461.7 L1436.1,462.2 L1438.9,462.7 L1441.8,463.3 L1444.7,463.8 L1447.5,464.3 L1450.4,464.8 L1453.3,465.3 L1456.2,465.7 L1459.0,466.2 L1461.9,466.6 L1464.8,467.1 L1467.6,467.5 L1470.5,467.9 L1473.4,468.4 L1476.3,468.8 L1479.1,469.2 L1482.0,469.5 L1484.9,469.9 L1487.7,470.3 L1490.6,470.7 L1493.5,471.0 L1496.4,471.4 L1499.2,471.7 L1502.1,472.1 L1505.0,472.4 L1507.9,472.7 L1510.7,473.0 L1513.6,473.4 L1516.5,473.7 L1519.3,474.0 L1522.2,474.2 L1525.1,474.5 L1528.0,474.8 L1530.8,475.1 L1533.7,475.4 L1536.6,475.6 L1539.4,475.9 L1542.3,476.1 L1545.2,476.4 L1548.1,476.6 L1550.9,476.9 L1553.8,477.1 L1556.7,477.3 L1559.5,477.6 L1562.4,477.8 L1565.3,478.0 L1568.2,478.2 L1571.0,478.4 L1573.9,478.6 L1576.8,478.8 L1579.7,479.0 L1582.5,479.2 L1585.4,479.4 L1588.3,479.6 L1591.1,479.8 L1594.0,480.0 L1596.9,480.1 L1599.8,480.3 L1602.6,480.5 L1605.5,480.6 L1608.4,480.8 L1611.2,481.0 L1614.1,481.1 L1617.0,481.3 L1619.9,481.4 L1622.7,481.6 L1625.6,481.7 L1628.5,481.9 L1631.3,482.0 L1634.2,482.1 L1637.1,482.3 L1640.0,482.4 L1642.8,482.5 L1645.7,482.7 L1648.6,482.8 L1651.5,482.9 L1654.3,483.0 L1657.2,483.2 L1660.1,483.3 L1662.9,483.4 L1665.8,483.5 L1668.7,483.6 L1671.6,483.7 L1674.4,483.8 L1677.3,484.0 L1680.2,484.1 L1683.0,484.2 L1685.9,484.3 L1688.8,484.4 L1691.7,484.5 L1694.5,484.6 L1697.4,484.7 L1700.3,484.8 L1703.1,484.9 L1706.0,484.9 L1708.9,485.0 L1711.8,485.1 L1714.6,485.2 L1717.5,485.3 L1720.4,485.4 L1723.3,485.5 L1726.1,485.6 L1729.0,485.6 L1731.9,485.7 L1734.7,485.8 L1737.6,485.9 L1740.5,486.0 L1743.4,486.0 L1746.2,486.1 L1749.1,486.2" stroke="#ffff33" stroke-width="4.6" stroke-linejoin="round" stroke-linecap="round"/>
<path d="M1031.1,83.0 L1034.0,89.4 L1036.8,96.0 L1039.7,102.8 L1042.6,109.8 L1045.5,116.9 L1048.3,124.0 L1051.2,131.2 L1054.1,138.2 L1056.9,145.2 L1059.8,152.0 L1062.7,158.5 L1065.6,164.8 L1068.4,170.7 L1071.3,176.1 L1074.2,181.3 L1077.1,186.5 L1079.9,191.8 L1082.8,197.2 L1085.7,202.7 L1088.5,208.2 L1091.4,213.7 L1094.3,219.3 L1097.2,224.9 L1100.0,230.4 L1102.9,235.9 L1105.8,241.4 L1108.6,246.8 L1111.5,252.1 L1114.4,257.2 L1117.3,262.3 L1120.1,267.1 L1123.0,271.8 L1125.9,276.3 L1128.7,280.6 L1131.6,284.7 L1134.5,288.5 L1137.4,292.3 L1140.2,296.1 L1143.1,299.8 L1146.0,303.4 L1148.9,307.0 L1151.7,310.6 L1154.6,314.0 L1157.5,317.4 L1160.3,320.8 L1163.2,324.1 L1166.1,327.3 L1169.0,330.5 L1171.8,333.7 L1174.7,336.8 L1177.6,339.8 L1180.4,342.8 L1183.3,345.7 L1186.2,348.6 L1189.1,351.4 L1191.9,354.2 L1194.8,356.9 L1197.7,359.6 L1200.5,362.3 L1203.4,364.9 L1206.3,367.4 L1209.2,369.9 L1212.0,372.4 L1214.9,374.8 L1217.8,377.2 L1220.7,379.5 L1223.5,381.8 L1226.4,384.0 L1229.3,386.2 L1232.1,388.4 L1235.0,390.5 L1237.9,392.6 L1240.8,394.6 L1243.6,396.6 L1246.5,398.6 L1249.4,400.5 L1252.2,402.4 L1255.1,404.2 L1258.0,406.0 L1260.9,407.8 L1263.7,409.5 L1266.6,411.3 L1269.5,412.9 L1272.3,414.6 L1275.2,416.2 L1278.1,417.8 L1281.0,419.3 L1283.8,420.8 L1286.7,422.3 L1289.6,423.8 L1292.5,425.2 L1295.3,426.6 L1298.2,427.9 L1301.1,429.3 L1303.9,430.6 L1306.8,431.9 L1309.7,433.1 L1312.6,434.4 L1315.4,435.6 L1318.3,436.7 L1321.2,437.9 L1324.0,439.0 L1326.9,440.1 L1329.8,441.2 L1332.7,442.3 L1335.5,443.3 L1338.4,444.3 L1341.3,445.3 L1344.1,446.3 L1347.0,447.2 L1349.9,448.2 L1352.8,449.1 L1355.6,449.9 L1358.5,450.8 L1361.4,451.7 L1364.3,452.5 L1367.1,453.3 L1370.0,454.1 L1372.9,454.9 L1375.7,455.6 L1378.6,456.4 L1381.5,457.1 L1384.4,457.8 L1387.2,458.5 L1390.1,459.2 L1393.0,459.8 L1395.8,460.5 L1398.7,461.1 L1401.6,461.7 L1404.5,462.3 L1407.3,462.9 L1410.2,463.5 L1413.1,464.1 L1415.9,464.6 L1418.8,465.1 L1421.7,465.7 L1424.6,466.2 L1427.4,466.7 L1430.3,467.2 L1433.2,467.6 L1436.1,468.1 L1438.9,468.6 L1441.8,469.0 L1444.7,469.4 L1447.5,469.9 L1450.4,470.3 L1453.3,470.7 L1456.2,471.1 L1459.0,471.5 L1461.9,471.8 L1464.8,472.2 L1467.6,472.6 L1470.5,472.9 L1473.4,473.3 L1476.3,473.6 L1479.1,473.9 L1482.0,474.2 L1484.9,474.5 L1487.7,474.8 L1490.6,475.1 L1493.5,475.4 L1496.4,475.7 L1499.2,476.0 L1502.1,476.3 L1505.0,476.5 L1507.9,476.8 L1510.7,477.0 L1513.6,477.3 L1516.5,477.5 L1519.3,477.7 L1522.2,478.0 L1525.1,478.2 L1528.0,478.4 L1530.8,478.6 L1533.7,478.8 L1536.6,479.0 L1539.4,479.2 L1542.3,479.4 L1545.2,479.6 L1548.1,479.8 L1550.9,480.0 L1553.8,480.1 L1556.7,480.3 L1559.5,480.5 L1562.4,480.6 L1565.3,480.8 L1568.2,480.9 L1571.0,481.1 L1573.9,481.2 L1576.8,481.4 L1579.7,481.5 L1582.5,481.7 L1585.4,481.8 L1588.3,481.9 L1591.1,482.1 L1594.0,482.2 L1596.9,482.3 L1599.8,482.4 L1602.6,482.5 L1605.5,482.7 L1608.4,482.8 L1611.2,482.9 L1614.1,483.0 L1617.0,483.1 L1619.9,483.2 L1622.7,483.3 L1625.6,483.4 L1628.5,483.5 L1631.3,483.6 L1634.2,483.7 L1637.1,483.8 L1640.0,483.9 L1642.8,483.9 L1645.7,484.0 L1648.6,484.1 L1651.5,484.2 L1654.3,484.3 L1657.2,484.3 L1660.1,484.4 L1662.9,484.5 L1665.8,484.6 L1668.7,484.6 L1671.6,484.7 L1674.4,484.8 L1677.3,484.9 L1680.2,484.9 L1683.0,485.0 L1685.9,485.0 L1688.8,485.1 L1691.7,485.2 L1694.5,485.2 L1697.4,485.3 L1700.3,485.3 L1703.1,485.4 L1706.0,485.5 L1708.9,485.5 L1711.8,485.6 L1714.6,485.6 L1717.5,485.7 L1720.4,485.7 L1723.3,485.8 L1726.1,485.8 L1729.0,485.9 L1731.9,485.9 L1734.7,486.0 L1737.6,486.0 L1740.5,486.1 L1743.4,486.1 L1746.2,486.2 L1749.1,486.2" stroke="#ffff33" stroke-width="4.6" stroke-linejoin="round" stroke-linecap="round"/>
<path d="M1031.1,83.9 L1034.0,90.3 L1036.8,97.1 L1039.7,104.1 L1042.6,111.4 L1045.5,118.8 L1048.3,126.3 L1051.2,133.8 L1054.1,141.2 L1056.9,148.6 L1059.8,155.7 L1062.7,162.5 L1065.6,169.0 L1068.4,175.0 L1071.3,180.6 L1074.2,185.8 L1077.1,191.0 L1079.9,196.4 L1082.8,202.0 L1085.7,207.6 L1088.5,213.3 L1091.4,219.1 L1094.3,225.0 L1097.2,230.8 L1100.0,236.7 L1102.9,242.5 L1105.8,248.2 L1108.6,253.9 L1111.5,259.5 L1114.4,264.9 L1117.3,270.2 L1120.1,275.3 L1123.0,280.2 L1125.9,284.9 L1128.7,289.3 L1131.6,293.3 L1134.5,297.2 L1137.4,301.1 L1140.2,304.9 L1143.1,308.6 L1146.0,312.2 L1148.9,315.8 L1151.7,319.4 L1154.6,322.9 L1157.5,326.3 L1160.3,329.7 L1163.2,333.0 L1166.1,336.2 L1169.0,339.4 L1171.8,342.6 L1174.7,345.7 L1177.6,348.7 L1180.4,351.7 L1183.3,354.6 L1186.2,357.5 L1189.1,360.3 L1191.9,363.1 L1194.8,365.8 L1197.7,368.5 L1200.5,371.1 L1203.4,373.7 L1206.3,376.3 L1209.2,378.7 L1212.0,381.2 L1214.9,383.6 L1217.8,385.9 L1220.7,388.2 L1223.5,390.5 L1226.4,392.7 L1229.3,394.9 L1232.1,397.0 L1235.0,399.1 L1237.9,401.1 L1240.8,403.1 L1243.6,405.1 L1246.5,407.0 L1249.4,408.9 L1252.2,410.8 L1255.1,412.6 L1258.0,414.4 L1260.9,416.1 L1263.7,417.8 L1266.6,419.5 L1269.5,421.1 L1272.3,422.7 L1275.2,424.3 L1278.1,425.8 L1281.0,427.3 L1283.8,428.8 L1286.7,430.2 L1289.6,431.6 L1292.5,433.0 L1295.3,434.3 L1298.2,435.6 L1301.1,436.9 L1303.9,438.2 L1306.8,439.4 L1309.7,440.6 L1312.6,441.8 L1315.4,442.9 L1318.3,444.0 L1321.2,445.1 L1324.0,446.2 L1326.9,447.3 L1329.8,448.3 L1332.7,449.3 L1335.5,450.3 L1338.4,451.2 L1341.3,452.1 L1344.1,453.0 L1347.0,453.9 L1349.9,454.8 L1352.8,455.6 L1355.6,456.5 L1358.5,457.3 L1361.4,458.1 L1364.3,458.8 L1367.1,459.6 L1370.0,460.3 L1372.9,461.0 L1375.7,461.7 L1378.6,462.4 L1381.5,463.0 L1384.4,463.7 L1387.2,464.3 L1390.1,464.9 L1393.0,465.5 L1395.8,466.1 L1398.7,466.7 L1401.6,467.2 L1404.5,467.8 L1407.3,468.3 L1410.2,468.8 L1413.1,469.3 L1415.9,469.8 L1418.8,470.2 L1421.7,470.7 L1424.6,471.2 L1427.4,471.6 L1430.3,472.0 L1433.2,472.4 L1436.1,472.8 L1438.9,473.2 L1441.8,473.6 L1444.7,474.0 L1447.5,474.3 L1450.4,474.7 L1453.3,475.0 L1456.2,475.4 L1459.0,475.7 L1461.9,476.0 L1464.8,476.3 L1467.6,476.6 L1470.5,476.9 L1473.4,477.2 L1476.3,477.5 L1479.1,477.7 L1482.0,478.0 L1484.9,478.2 L1487.7,478.5 L1490.6,478.7 L1493.5,478.9 L1496.4,479.2 L1499.2,479.4 L1502.1,479.6 L1505.0,479.8 L1507.9,480.0 L1510.7,480.2 L1513.6,480.4 L1516.5,480.6 L1519.3,480.8 L1522.2,480.9 L1525.1,481.1 L1528.0,481.3 L1530.8,481.4 L1533.7,481.6 L1536.6,481.7 L1539.4,481.9 L1542.3,482.0 L1545.2,482.2 L1548.1,482.3 L1550.9,482.4 L1553.8,482.5 L1556.7,482.7 L1559.5,482.8 L1562.4,482.9 L1565.3,483.0 L1568.2,483.1 L1571.0,483.2 L1573.9,483.3 L1576.8,483.4 L1579.7,483.5 L1582.5,483.6 L1585.4,483.7 L1588.3,483.8 L1591.1,483.9 L1594.0,484.0 L1596.9,484.1 L1599.8,484.1 L1602.6,484.2 L1605.5,484.3 L1608.4,484.4 L1611.2,484.4 L1614.1,484.5 L1617.0,484.6 L1619.9,484.6 L1622.7,484.7 L1625.6,484.7 L1628.5,484.8 L1631.3,484.9 L1634.2,484.9 L1637.1,485.0 L1640.0,485.0 L1642.8,485.1 L1645.7,485.1 L1648.6,485.2 L1651.5,485.2 L1654.3,485.3 L1657.2,485.3 L1660.1,485.3 L1662.9,485.4 L1665.8,485.4 L1668.7,485.5 L1671.6,485.5 L1674.4,485.5 L1677.3,485.6 L1680.2,485.6 L1683.0,485.6 L1685.9,485.7 L1688.8,485.7 L1691.7,485.7 L1694.5,485.8 L1697.4,485.8 L1700.3,485.8 L1703.1,485.8 L1706.0,485.9 L1708.9,485.9 L1711.8,485.9 L1714.6,485.9 L1717.5,486.0 L1720.4,486.0 L1723.3,486.0 L1726.1,486.0 L1729.0,486.1 L1731.9,486.1 L1734.7,486.1 L1737.6,486.1 L1740.5,486.1 L1743.4,486.2 L1746.2,486.2 L1749.1,486.2" stroke="#ffff33" stroke-width="4.6" stroke-linejoin="round" stroke-linecap="round"/>
<path d="M1031.1,92.7 L1034.0,99.1 L1036.8,105.9 L1039.7,112.9 L1042.6,120.1 L1045.5,127.5 L1048.3,134.9 L1051.2,142.4 L1054.1,149.8 L1056.9,157.0 L1059.8,164.1 L1062.7,170.9 L1065.6,177.4 L1068.4,183.4 L1071.3,189.0 L1074.2,194.2 L1077.1,199.3 L1079.9,204.1 L1082.8,208.6 L1085.7,212.8 L1088.5,216.8 L1091.4,220.6 L1094.3,224.3 L1097.2,227.8 L1100.0,231.1 L1102.9,234.4 L1105.8,237.5 L1108.6,240.7 L1111.5,243.8 L1114.4,246.9 L1117.3,250.0 L1120.1,253.2 L1123.0,256.5 L1125.9,259.9 L1128.7,263.5 L1131.6,267.3 L1134.5,271.1 L1137.4,274.9 L1140.2,278.6 L1143.1,282.2 L1146.0,285.8 L1148.9,289.4 L1151.7,292.9 L1154.6,296.3 L1157.5,299.7 L1160.3,303.0 L1163.2,306.3 L1166.1,309.6 L1169.0,312.7 L1171.8,315.9 L1174.7,318.9 L1177.6,322.0 L1180.4,325.0 L1183.3,327.9 L1186.2,330.8 L1189.1,333.6 L1191.9,336.4 L1194.8,339.2 L1197.7,341.9 L1200.5,344.5 L1203.4,347.2 L1206.3,349.7 L1209.2,352.3 L1212.0,354.8 L1214.9,357.2 L1217.8,359.6 L1220.7,362.0 L1223.5,364.3 L1226.4,366.6 L1229.3,368.9 L1232.1,371.1 L1235.0,373.2 L1237.9,375.4 L1240.8,377.5 L1243.6,379.5 L1246.5,381.6 L1249.4,383.6 L1252.2,385.5 L1255.1,387.5 L1258.0,389.3 L1260.9,391.2 L1263.7,393.0 L1266.6,394.8 L1269.5,396.6 L1272.3,398.3 L1275.2,400.0 L1278.1,401.7 L1281.0,403.3 L1283.8,404.9 L1286.7,406.5 L1289.6,408.1 L1292.5,409.6 L1295.3,411.1 L1298.2,412.6 L1301.1,414.0 L1303.9,415.4 L1306.8,416.8 L1309.7,418.2 L1312.6,419.5 L1315.4,420.8 L1318.3,422.1 L1321.2,423.4 L1324.0,424.7 L1326.9,425.9 L1329.8,427.1 L1332.7,428.3 L1335.5,429.4 L1338.4,430.5 L1341.3,431.7 L1344.1,432.8 L1347.0,433.8 L1349.9,434.9 L1352.8,435.9 L1355.6,436.9 L1358.5,437.9 L1361.4,438.9 L1364.3,439.9 L1367.1,440.8 L1370.0,441.7 L1372.9,442.6 L1375.7,443.5 L1378.6,444.4 L1381.5,445.2 L1384.4,446.1 L1387.2,446.9 L1390.1,447.7 L1393.0,448.5 L1395.8,449.3 L1398.7,450.0 L1401.6,450.8 L1404.5,451.5 L1407.3,452.2 L1410.2,452.9 L1413.1,453.6 L1415.9,454.3 L1418.8,454.9 L1421.7,455.6 L1424.6,456.2 L1427.4,456.9 L1430.3,457.5 L1433.2,458.1 L1436.1,458.7 L1438.9,459.3 L1441.8,459.8 L1444.7,460.4 L1447.5,460.9 L1450.4,461.5 L1453.3,462.0 L1456.2,462.5 L1459.0,463.0 L1461.9,463.5 L1464.8,464.0 L1467.6,464.5 L1470.5,464.9 L1473.4,465.4 L1476.3,465.9 L1479.1,466.3 L1482.0,466.7 L1484.9,467.2 L1487.7,467.6 L1490.6,468.0 L1493.5,468.4 L1496.4,468.8 L1499.2,469.2 L1502.1,469.6 L1505.0,469.9 L1507.9,470.3 L1510.7,470.7 L1513.6,471.0 L1516.5,471.3 L1519.3,471.7 L1522.2,472.0 L1525.1,472.3 L1528.0,472.7 L1530.8,473.0 L1533.7,473.3 L1536.6,473.6 L1539.4,473.9 L1542.3,474.2 L1545.2,474.5 L1548.1,474.7 L1550.9,475.0 L1553.8,475.3 L1556.7,475.6 L1559.5,475.8 L1562.4,476.1 L1565.3,476.3 L1568.2,476.6 L1571.0,476.8 L1573.9,477.1 L1576.8,477.3 L1579.7,477.5 L1582.5,477.8 L1585.4,478.0 L1588.3,478.2 L1591.1,478.4 L1594.0,478.6 L1596.9,478.8 L1599.8,479.0 L1602.6,479.2 L1605.5,479.4 L1608.4,479.6 L1611.2,479.8 L1614.1,480.0 L1617.0,480.2 L1619.9,480.4 L1622.7,480.5 L1625.6,480.7 L1628.5,480.9 L1631.3,481.0 L1634.2,481.2 L1637.1,481.4 L1640.0,481.5 L1642.8,481.7 L1645.7,481.9 L1648.6,482.0 L1651.5,482.2 L1654.3,482.3 L1657.2,482.5 L1660.1,482.6 L1662.9,482.7 L1665.8,482.9 L1668.7,483.0 L1671.6,483.2 L1674.4,483.3 L1677.3,483.4 L1680.2,483.5 L1683.0,483.7 L1685.9,483.8 L1688.8,483.9 L1691.7,484.1 L1694.5,484.2 L1697.4,484.3 L1700.3,484.4 L1703.1,484.5 L1706.0,484.6 L1708.9,484.8 L1711.8,484.9 L1714.6,485.0 L1717.5,485.1 L1720.4,485.2 L1723.3,485.3 L1726.1,485.4 L1729.0,485.5 L1731.9,485.6 L1734.7,485.7 L1737.6,485.8 L1740.5,485.9 L1743.4,486.0 L1746.2,486.1 L1749.1,486.2" stroke="#111111" stroke-width="5" stroke-dasharray="10 14.655" stroke-linejoin="round"/>
<path d="M1031.1,99.7 L1034.0,106.1 L1036.8,112.7 L1039.7,119.5 L1042.6,126.4 L1045.5,133.5 L1048.3,140.6 L1051.2,147.6 L1054.1,154.6 L1056.9,161.5 L1059.8,168.3 L1062.7,174.8 L1065.6,181.0 L1068.4,186.9 L1071.3,192.5 L1074.2,197.7 L1077.1,202.9 L1079.9,207.8 L1082.8,212.6 L1085.7,217.2 L1088.5,221.7 L1091.4,226.0 L1094.3,230.2 L1097.2,234.3 L1100.0,238.3 L1102.9,242.2 L1105.8,246.0 L1108.6,249.8 L1111.5,253.6 L1114.4,257.3 L1117.3,261.0 L1120.1,264.7 L1123.0,268.4 L1125.9,272.1 L1128.7,275.9 L1131.6,279.8 L1134.5,283.6 L1137.4,287.4 L1140.2,291.2 L1143.1,294.9 L1146.0,298.5 L1148.9,302.1 L1151.7,305.6 L1154.6,309.0 L1157.5,312.4 L1160.3,315.8 L1163.2,319.1 L1166.1,322.3 L1169.0,325.5 L1171.8,328.7 L1174.7,331.7 L1177.6,334.8 L1180.4,337.8 L1183.3,340.7 L1186.2,343.6 L1189.1,346.4 L1191.9,349.2 L1194.8,352.0 L1197.7,354.6 L1200.5,357.3 L1203.4,359.9 L1206.3,362.4 L1209.2,365.0 L1212.0,367.4 L1214.9,369.8 L1217.8,372.2 L1220.7,374.6 L1223.5,376.9 L1226.4,379.1 L1229.3,381.3 L1232.1,383.5 L1235.0,385.6 L1237.9,387.7 L1240.8,389.8 L1243.6,391.8 L1246.5,393.8 L1249.4,395.7 L1252.2,397.6 L1255.1,399.5 L1258.0,401.3 L1260.9,403.1 L1263.7,404.9 L1266.6,406.6 L1269.5,408.3 L1272.3,410.0 L1275.2,411.6 L1278.1,413.2 L1281.0,414.8 L1283.8,416.4 L1286.7,417.9 L1289.6,419.3 L1292.5,420.8 L1295.3,422.2 L1298.2,423.6 L1301.1,425.0 L1303.9,426.3 L1306.8,427.6 L1309.7,428.9 L1312.6,430.2 L1315.4,431.4 L1318.3,432.6 L1321.2,433.8 L1324.0,435.0 L1326.9,436.1 L1329.8,437.2 L1332.7,438.3 L1335.5,439.4 L1338.4,440.4 L1341.3,441.5 L1344.1,442.5 L1347.0,443.5 L1349.9,444.4 L1352.8,445.4 L1355.6,446.3 L1358.5,447.2 L1361.4,448.1 L1364.3,448.9 L1367.1,449.8 L1370.0,450.6 L1372.9,451.4 L1375.7,452.2 L1378.6,453.0 L1381.5,453.8 L1384.4,454.5 L1387.2,455.2 L1390.1,455.9 L1393.0,456.6 L1395.8,457.3 L1398.7,458.0 L1401.6,458.6 L1404.5,459.3 L1407.3,459.9 L1410.2,460.5 L1413.1,461.1 L1415.9,461.7 L1418.8,462.3 L1421.7,462.8 L1424.6,463.4 L1427.4,463.9 L1430.3,464.4 L1433.2,465.0 L1436.1,465.5 L1438.9,465.9 L1441.8,466.4 L1444.7,466.9 L1447.5,467.4 L1450.4,467.8 L1453.3,468.2 L1456.2,468.7 L1459.0,469.1 L1461.9,469.5 L1464.8,469.9 L1467.6,470.3 L1470.5,470.7 L1473.4,471.0 L1476.3,471.4 L1479.1,471.8 L1482.0,472.1 L1484.9,472.5 L1487.7,472.8 L1490.6,473.1 L1493.5,473.4 L1496.4,473.8 L1499.2,474.1 L1502.1,474.4 L1505.0,474.7 L1507.9,474.9 L1510.7,475.2 L1513.6,475.5 L1516.5,475.8 L1519.3,476.0 L1522.2,476.3 L1525.1,476.5 L1528.0,476.8 L1530.8,477.0 L1533.7,477.3 L1536.6,477.5 L1539.4,477.7 L1542.3,477.9 L1545.2,478.2 L1548.1,478.4 L1550.9,478.6 L1553.8,478.8 L1556.7,479.0 L1559.5,479.2 L1562.4,479.3 L1565.3,479.5 L1568.2,479.7 L1571.0,479.9 L1573.9,480.1 L1576.8,480.2 L1579.7,480.4 L1582.5,480.6 L1585.4,480.7 L1588.3,480.9 L1591.1,481.0 L1594.0,481.2 L1596.9,481.3 L1599.8,481.5 L1602.6,481.6 L1605.5,481.8 L1608.4,481.9 L1611.2,482.0 L1614.1,482.1 L1617.0,482.3 L1619.9,482.4 L1622.7,482.5 L1625.6,482.6 L1628.5,482.8 L1631.3,482.9 L1634.2,483.0 L1637.1,483.1 L1640.0,483.2 L1642.8,483.3 L1645.7,483.4 L1648.6,483.5 L1651.5,483.6 L1654.3,483.7 L1657.2,483.8 L1660.1,483.9 L1662.9,484.0 L1665.8,484.1 L1668.7,484.2 L1671.6,484.3 L1674.4,484.4 L1677.3,484.4 L1680.2,484.5 L1683.0,484.6 L1685.9,484.7 L1688.8,484.8 L1691.7,484.9 L1694.5,484.9 L1697.4,485.0 L1700.3,485.1 L1703.1,485.2 L1706.0,485.2 L1708.9,485.3 L1711.8,485.4 L1714.6,485.4 L1717.5,485.5 L1720.4,485.6 L1723.3,485.6 L1726.1,485.7 L1729.0,485.8 L1731.9,485.8 L1734.7,485.9 L1737.6,486.0 L1740.5,486.0 L1743.4,486.1 L1746.2,486.1 L1749.1,486.2" stroke="#111111" stroke-width="5" stroke-dasharray="10 14.668" stroke-linejoin="round"/>
<path d="M1031.1,108.9 L1034.0,115.3 L1036.8,121.7 L1039.7,128.1 L1042.6,134.6 L1045.5,141.1 L1048.3,147.6 L1051.2,154.1 L1054.1,160.5 L1056.9,166.8 L1059.8,172.9 L1062.7,179.0 L1065.6,184.8 L1068.4,190.5 L1071.3,195.9 L1074.2,201.2 L1077.1,206.4 L1079.9,211.5 L1082.8,216.5 L1085.7,221.4 L1088.5,226.1 L1091.4,230.8 L1094.3,235.4 L1097.2,240.0 L1100.0,244.4 L1102.9,248.8 L1105.8,253.0 L1108.6,257.3 L1111.5,261.5 L1114.4,265.6 L1117.3,269.7 L1120.1,273.7 L1123.0,277.7 L1125.9,281.7 L1128.7,285.6 L1131.6,289.5 L1134.5,293.4 L1137.4,297.3 L1140.2,301.0 L1143.1,304.7 L1146.0,308.4 L1148.9,312.0 L1151.7,315.5 L1154.6,319.0 L1157.5,322.4 L1160.3,325.8 L1163.2,329.1 L1166.1,332.3 L1169.0,335.5 L1171.8,338.7 L1174.7,341.8 L1177.6,344.8 L1180.4,347.8 L1183.3,350.7 L1186.2,353.6 L1189.1,356.4 L1191.9,359.2 L1194.8,361.9 L1197.7,364.6 L1200.5,367.3 L1203.4,369.9 L1206.3,372.4 L1209.2,374.9 L1212.0,377.3 L1214.9,379.7 L1217.8,382.1 L1220.7,384.4 L1223.5,386.7 L1226.4,388.9 L1229.3,391.1 L1232.1,393.2 L1235.0,395.3 L1237.9,397.4 L1240.8,399.4 L1243.6,401.4 L1246.5,403.3 L1249.4,405.2 L1252.2,407.1 L1255.1,408.9 L1258.0,410.7 L1260.9,412.5 L1263.7,414.2 L1266.6,415.9 L1269.5,417.5 L1272.3,419.1 L1275.2,420.7 L1278.1,422.3 L1281.0,423.8 L1283.8,425.3 L1286.7,426.7 L1289.6,428.2 L1292.5,429.6 L1295.3,430.9 L1298.2,432.3 L1301.1,433.6 L1303.9,434.9 L1306.8,436.1 L1309.7,437.3 L1312.6,438.5 L1315.4,439.7 L1318.3,440.9 L1321.2,442.0 L1324.0,443.1 L1326.9,444.1 L1329.8,445.2 L1332.7,446.2 L1335.5,447.2 L1338.4,448.2 L1341.3,449.1 L1344.1,450.1 L1347.0,451.0 L1349.9,451.9 L1352.8,452.8 L1355.6,453.6 L1358.5,454.4 L1361.4,455.3 L1364.3,456.1 L1367.1,456.8 L1370.0,457.6 L1372.9,458.3 L1375.7,459.0 L1378.6,459.8 L1381.5,460.4 L1384.4,461.1 L1387.2,461.8 L1390.1,462.4 L1393.0,463.0 L1395.8,463.6 L1398.7,464.2 L1401.6,464.8 L1404.5,465.4 L1407.3,465.9 L1410.2,466.5 L1413.1,467.0 L1415.9,467.5 L1418.8,468.0 L1421.7,468.5 L1424.6,469.0 L1427.4,469.4 L1430.3,469.9 L1433.2,470.3 L1436.1,470.8 L1438.9,471.2 L1441.8,471.6 L1444.7,472.0 L1447.5,472.4 L1450.4,472.8 L1453.3,473.1 L1456.2,473.5 L1459.0,473.8 L1461.9,474.2 L1464.8,474.5 L1467.6,474.8 L1470.5,475.2 L1473.4,475.5 L1476.3,475.8 L1479.1,476.1 L1482.0,476.3 L1484.9,476.6 L1487.7,476.9 L1490.6,477.1 L1493.5,477.4 L1496.4,477.7 L1499.2,477.9 L1502.1,478.1 L1505.0,478.4 L1507.9,478.6 L1510.7,478.8 L1513.6,479.0 L1516.5,479.2 L1519.3,479.4 L1522.2,479.6 L1525.1,479.8 L1528.0,480.0 L1530.8,480.2 L1533.7,480.4 L1536.6,480.5 L1539.4,480.7 L1542.3,480.9 L1545.2,481.0 L1548.1,481.2 L1550.9,481.3 L1553.8,481.5 L1556.7,481.6 L1559.5,481.8 L1562.4,481.9 L1565.3,482.0 L1568.2,482.2 L1571.0,482.3 L1573.9,482.4 L1576.8,482.5 L1579.7,482.7 L1582.5,482.8 L1585.4,482.9 L1588.3,483.0 L1591.1,483.1 L1594.0,483.2 L1596.9,483.3 L1599.8,483.4 L1602.6,483.5 L1605.5,483.6 L1608.4,483.7 L1611.2,483.7 L1614.1,483.8 L1617.0,483.9 L1619.9,484.0 L1622.7,484.1 L1625.6,484.2 L1628.5,484.2 L1631.3,484.3 L1634.2,484.4 L1637.1,484.4 L1640.0,484.5 L1642.8,484.6 L1645.7,484.6 L1648.6,484.7 L1651.5,484.8 L1654.3,484.8 L1657.2,484.9 L1660.1,484.9 L1662.9,485.0 L1665.8,485.0 L1668.7,485.1 L1671.6,485.2 L1674.4,485.2 L1677.3,485.3 L1680.2,485.3 L1683.0,485.4 L1685.9,485.4 L1688.8,485.4 L1691.7,485.5 L1694.5,485.5 L1697.4,485.6 L1700.3,485.6 L1703.1,485.7 L1706.0,485.7 L1708.9,485.7 L1711.8,485.8 L1714.6,485.8 L1717.5,485.8 L1720.4,485.9 L1723.3,485.9 L1726.1,485.9 L1729.0,486.0 L1731.9,486.0 L1734.7,486.0 L1737.6,486.1 L1740.5,486.1 L1743.4,486.1 L1746.2,486.2 L1749.1,486.2" stroke="#111111" stroke-width="5" stroke-dasharray="10 15.394" stroke-linejoin="round"/>
<path d="M1031.1,118.2 L1034.0,124.5 L1036.8,130.7 L1039.7,136.9 L1042.6,142.9 L1045.5,149.0 L1048.3,154.9 L1051.2,160.8 L1054.1,166.6 L1056.9,172.3 L1059.8,178.0 L1062.7,183.6 L1065.6,189.1 L1068.4,194.5 L1071.3,199.9 L1074.2,205.2 L1077.1,210.4 L1079.9,215.6 L1082.8,220.7 L1085.7,225.8 L1088.5,230.7 L1091.4,235.6 L1094.3,240.4 L1097.2,245.2 L1100.0,249.9 L1102.9,254.5 L1105.8,259.1 L1108.6,263.6 L1111.5,268.0 L1114.4,272.3 L1117.3,276.6 L1120.1,280.9 L1123.0,285.0 L1125.9,289.1 L1128.7,293.2 L1131.6,297.1 L1134.5,301.1 L1137.4,304.9 L1140.2,308.7 L1143.1,312.4 L1146.0,316.1 L1148.9,319.7 L1151.7,323.3 L1154.6,326.7 L1157.5,330.2 L1160.3,333.5 L1163.2,336.9 L1166.1,340.1 L1169.0,343.3 L1171.8,346.5 L1174.7,349.6 L1177.6,352.6 L1180.4,355.6 L1183.3,358.5 L1186.2,361.4 L1189.1,364.2 L1191.9,367.0 L1194.8,369.7 L1197.7,372.4 L1200.5,375.0 L1203.4,377.6 L1206.3,380.1 L1209.2,382.6 L1212.0,385.0 L1214.9,387.4 L1217.8,389.8 L1220.7,392.1 L1223.5,394.3 L1226.4,396.5 L1229.3,398.7 L1232.1,400.8 L1235.0,402.9 L1237.9,404.9 L1240.8,406.9 L1243.6,408.8 L1246.5,410.8 L1249.4,412.6 L1252.2,414.5 L1255.1,416.3 L1258.0,418.0 L1260.9,419.7 L1263.7,421.4 L1266.6,423.1 L1269.5,424.7 L1272.3,426.3 L1275.2,427.8 L1278.1,429.3 L1281.0,430.8 L1283.8,432.2 L1286.7,433.7 L1289.6,435.0 L1292.5,436.4 L1295.3,437.7 L1298.2,439.0 L1301.1,440.3 L1303.9,441.5 L1306.8,442.7 L1309.7,443.9 L1312.6,445.0 L1315.4,446.1 L1318.3,447.2 L1321.2,448.3 L1324.0,449.4 L1326.9,450.4 L1329.8,451.4 L1332.7,452.3 L1335.5,453.3 L1338.4,454.2 L1341.3,455.1 L1344.1,456.0 L1347.0,456.9 L1349.9,457.7 L1352.8,458.5 L1355.6,459.3 L1358.5,460.1 L1361.4,460.8 L1364.3,461.6 L1367.1,462.3 L1370.0,463.0 L1372.9,463.7 L1375.7,464.4 L1378.6,465.0 L1381.5,465.6 L1384.4,466.2 L1387.2,466.8 L1390.1,467.4 L1393.0,468.0 L1395.8,468.6 L1398.7,469.1 L1401.6,469.6 L1404.5,470.1 L1407.3,470.6 L1410.2,471.1 L1413.1,471.6 L1415.9,472.0 L1418.8,472.5 L1421.7,472.9 L1424.6,473.3 L1427.4,473.7 L1430.3,474.1 L1433.2,474.5 L1436.1,474.9 L1438.9,475.3 L1441.8,475.6 L1444.7,476.0 L1447.5,476.3 L1450.4,476.6 L1453.3,476.9 L1456.2,477.2 L1459.0,477.5 L1461.9,477.8 L1464.8,478.1 L1467.6,478.4 L1470.5,478.6 L1473.4,478.9 L1476.3,479.1 L1479.1,479.4 L1482.0,479.6 L1484.9,479.8 L1487.7,480.1 L1490.6,480.3 L1493.5,480.5 L1496.4,480.7 L1499.2,480.9 L1502.1,481.1 L1505.0,481.2 L1507.9,481.4 L1510.7,481.6 L1513.6,481.8 L1516.5,481.9 L1519.3,482.1 L1522.2,482.2 L1525.1,482.4 L1528.0,482.5 L1530.8,482.7 L1533.7,482.8 L1536.6,482.9 L1539.4,483.0 L1542.3,483.2 L1545.2,483.3 L1548.1,483.4 L1550.9,483.5 L1553.8,483.6 L1556.7,483.7 L1559.5,483.8 L1562.4,483.9 L1565.3,484.0 L1568.2,484.1 L1571.0,484.2 L1573.9,484.2 L1576.8,484.3 L1579.7,484.4 L1582.5,484.5 L1585.4,484.6 L1588.3,484.6 L1591.1,484.7 L1594.0,484.8 L1596.9,484.8 L1599.8,484.9 L1602.6,484.9 L1605.5,485.0 L1608.4,485.0 L1611.2,485.1 L1614.1,485.1 L1617.0,485.2 L1619.9,485.2 L1622.7,485.3 L1625.6,485.3 L1628.5,485.4 L1631.3,485.4 L1634.2,485.5 L1637.1,485.5 L1640.0,485.5 L1642.8,485.6 L1645.7,485.6 L1648.6,485.6 L1651.5,485.7 L1654.3,485.7 L1657.2,485.7 L1660.1,485.7 L1662.9,485.8 L1665.8,485.8 L1668.7,485.8 L1671.6,485.8 L1674.4,485.9 L1677.3,485.9 L1680.2,485.9 L1683.0,485.9 L1685.9,485.9 L1688.8,486.0 L1691.7,486.0 L1694.5,486.0 L1697.4,486.0 L1700.3,486.0 L1703.1,486.0 L1706.0,486.1 L1708.9,486.1 L1711.8,486.1 L1714.6,486.1 L1717.5,486.1 L1720.4,486.1 L1723.3,486.1 L1726.1,486.1 L1729.0,486.1 L1731.9,486.2 L1734.7,486.2 L1737.6,486.2 L1740.5,486.2 L1743.4,486.2 L1746.2,486.2 L1749.1,486.2" stroke="#111111" stroke-width="5" stroke-dasharray="10 15.261" stroke-linejoin="round"/>
</g>
<path d="M1017.2,48.4 H1764.6 V509.3 H1017.2 Z" fill="none" stroke="#000" stroke-width="2"/>
<text x="0" y="0" font-size="28.0" text-anchor="end" transform="translate(1010.2,496.6) scale(1,1.045)" >0.0</text>
<text x="0" y="0" font-size="28.0" text-anchor="end" transform="translate(1010.2,391.4) scale(1,1.045)" >0.1</text>
<text x="0" y="0" font-size="28.0" text-anchor="end" transform="translate(1010.2,286.3) scale(1,1.045)" >0.2</text>
<text x="0" y="0" font-size="28.0" text-anchor="end" transform="translate(1010.2,181.2) scale(1,1.045)" >0.3</text>
<text x="0" y="0" font-size="28.0" text-anchor="end" transform="translate(1010.2,76.0) scale(1,1.045)" >0.4</text>
<text x="0" y="0" font-size="28.0" text-anchor="middle" transform="translate(1031.1,541.7) scale(1,1.045)" >0</text>
<text x="0" y="0" font-size="28.0" text-anchor="middle" transform="translate(1174.7,541.7) scale(1,1.045)" >1</text>
<text x="0" y="0" font-size="28.0" text-anchor="middle" transform="translate(1318.3,541.7) scale(1,1.045)" >2</text>
<text x="0" y="0" font-size="28.0" text-anchor="middle" transform="translate(1461.9,541.7) scale(1,1.045)" >3</text>
<text x="0" y="0" font-size="28.0" text-anchor="middle" transform="translate(1605.5,541.7) scale(1,1.045)" >4</text>
<text x="0" y="0" font-size="28.0" text-anchor="middle" transform="translate(1749.1,541.7) scale(1,1.045)" >5</text>
<text x="1384.0" y="580.9" font-size="29.0" font-style="italic">&#951;</text>
<text x="0" y="0" font-size="28.0" text-anchor="middle" transform="translate(957.0,279.0) rotate(-90)">F'(<tspan font-style="italic">&#951;</tspan>)</text>
<text x="1093.7" y="134.0" font-size="21.5"><tspan font-style="italic">S</tspan><tspan font-style="italic" font-size="16.1" dy="4">t</tspan><tspan dy="-4"> = 0.1, 0.5, 0.9, 1.3, 1.7</tspan></text>
<rect x="1385.3" y="79.7" width="278.7" height="98.4" rx="4" fill="#fff" stroke="#000" stroke-width="6.2"/>
<line x1="1399.0" y1="106.8" x2="1434.8" y2="106.8" stroke="#ffff55" stroke-width="2.2"/>
<line x1="1399.6" y1="151.8" x2="1411.6" y2="151.8" stroke="#000" stroke-width="2.4"/>
<line x1="1427.4" y1="151.8" x2="1434.8" y2="151.8" stroke="#000" stroke-width="2.4"/>
<text x="1448.6" y="113.4" font-size="25.6">(MgZn<tspan font-size="17.4" dy="4.6" dx="-0.3">6</tspan><tspan dy="-4.6" dx="2">Zr)/C</tspan><tspan font-size="17.4" dy="4.6" dx="1">8</tspan><tspan dy="-4.6" dx="2.2">H</tspan><tspan font-size="17.4" dy="4.6" dx="2">18</tspan></text>
<text x="1448.6" y="157.8" font-size="25.6">Regular fluid</text>
<rect x="1409.3" y="199.2" width="248.9" height="152.5" fill="#fff" stroke="#8a8a8a" stroke-width="1.5"/>
<line x1="1414.5" y1="207.2" x2="1654.0" y2="210.6" stroke="#ffff44" stroke-width="1.9"/>
<line x1="1414.5" y1="243.5" x2="1654.0" y2="247.8" stroke="#ffff44" stroke-width="1.9"/>
<line x1="1414.5" y1="271.0" x2="1654.0" y2="275.0" stroke="#ffff44" stroke-width="1.9"/>
<line x1="1414.5" y1="293.0" x2="1654.0" y2="297.3" stroke="#ffff44" stroke-width="1.9"/>
<line x1="1414.5" y1="311.9" x2="1654.0" y2="316.2" stroke="#ffff44" stroke-width="1.9"/>
<line x1="1414.5" y1="239.5" x2="1654.0" y2="243.2" stroke="#1a1a1a" stroke-width="1.9" stroke-dasharray="12 14"/>
<line x1="1414.5" y1="274.7" x2="1654.0" y2="278.7" stroke="#1a1a1a" stroke-width="1.9" stroke-dasharray="12 14"/>
<line x1="1414.5" y1="301.0" x2="1654.0" y2="305.0" stroke="#1a1a1a" stroke-width="1.9" stroke-dasharray="12 14"/>
<line x1="1414.5" y1="322.2" x2="1654.0" y2="326.2" stroke="#1a1a1a" stroke-width="1.9" stroke-dasharray="12 14"/>
<line x1="1414.5" y1="340.5" x2="1654.0" y2="344.5" stroke="#1a1a1a" stroke-width="1.9" stroke-dasharray="12 14"/>
<ellipse cx="1445.0" cy="458.5" rx="87.5" ry="35.0" fill="none" stroke="#000" stroke-width="1.7"/>
<line x1="1411.4" y1="352.1" x2="1369.6" y2="433.0" stroke="#000" stroke-width="2"/>
<line x1="1656.5" y1="352.0" x2="1530.7" y2="462.6" stroke="#000" stroke-width="2"/>
<line x1="1546.0" y1="288.1" x2="1493.8" y2="371.9" stroke="#000" stroke-width="2"/>
<path d="M1482.2,390.6 L1489.1,364.3 L1492.8,373.6 L1502.7,372.8 Z" fill="#000"/>
</svg></body></html>
